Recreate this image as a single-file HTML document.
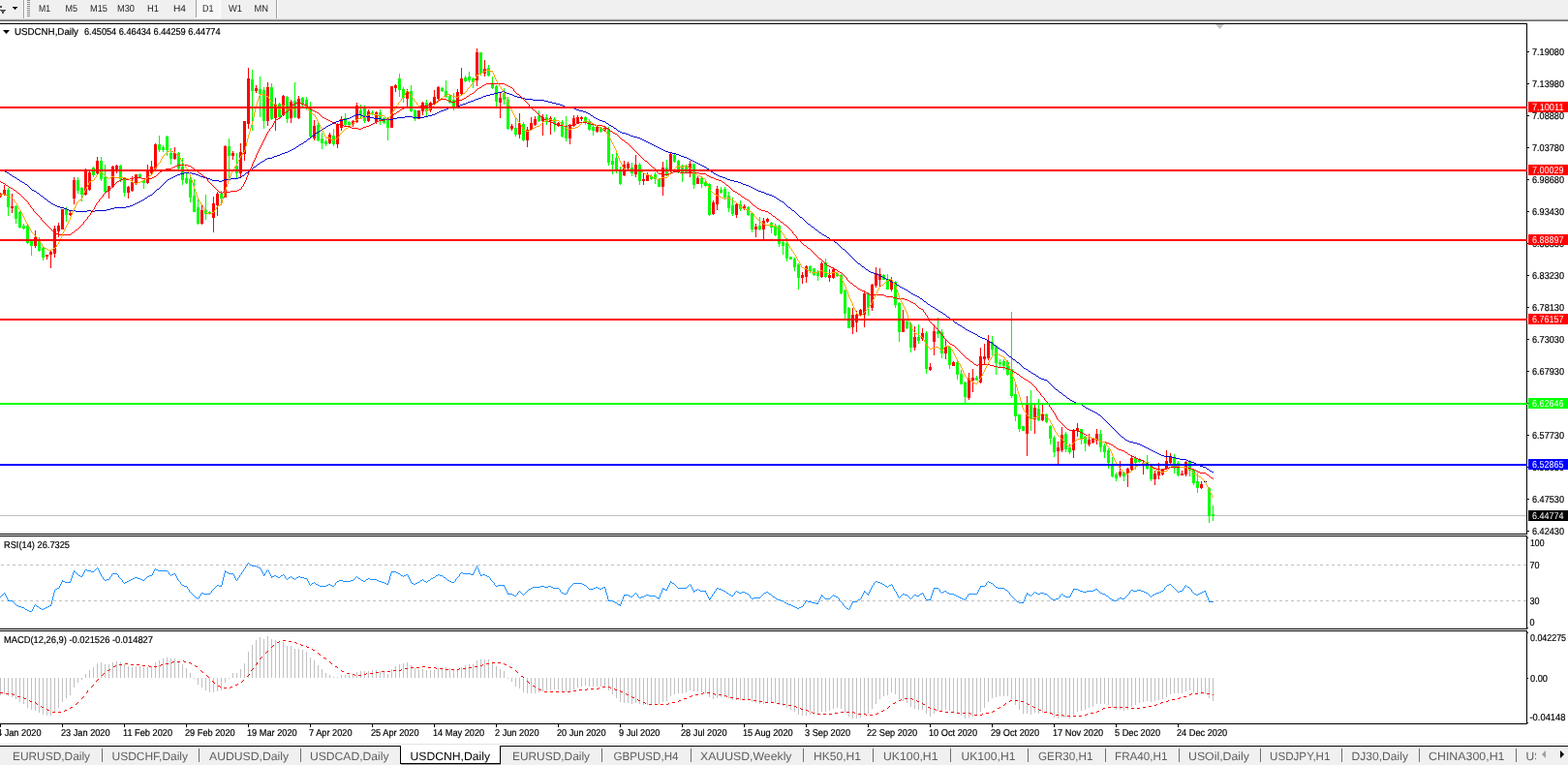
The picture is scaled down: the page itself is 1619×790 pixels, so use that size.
<!DOCTYPE html><html><head><meta charset="utf-8"><title>USDCNH,Daily</title>
<style>html,body{margin:0;padding:0;background:#fff;}body{width:1619px;height:790px;overflow:hidden;position:relative;}svg{position:absolute;left:0;top:0;display:block}</style></head><body>
<svg width="1619" height="790" viewBox="0 0 1619 790" font-family="'Liberation Sans', sans-serif" text-rendering="geometricPrecision">
<g shape-rendering="crispEdges">
<rect x="0" y="0" width="1619" height="20" fill="#f0f0f0"/>
<rect x="0" y="19" width="1619" height="1" fill="#e2e2e2"/>
<rect x="0" y="20" width="1619" height="1" fill="#a0a0a0"/>
<rect x="0" y="21" width="1619" height="1" fill="#696969"/>
<rect x="24" y="0" width="1" height="19" fill="#a0a0a0"/>
<rect x="25" y="0" width="1" height="19" fill="#ffffff"/>
<rect x="202" y="0" width="1" height="19" fill="#a0a0a0"/>
<rect x="203" y="0" width="1" height="19" fill="#ffffff"/>
<rect x="285" y="0" width="1" height="19" fill="#a0a0a0"/>
<rect x="286" y="0" width="1" height="19" fill="#ffffff"/>
<rect x="28" y="0" width="3" height="1" fill="#8a8a8a"/>
<rect x="28" y="2" width="3" height="1" fill="#8a8a8a"/>
<rect x="28" y="4" width="3" height="1" fill="#8a8a8a"/>
<rect x="28" y="6" width="3" height="1" fill="#8a8a8a"/>
<rect x="28" y="8" width="3" height="1" fill="#8a8a8a"/>
<rect x="28" y="10" width="3" height="1" fill="#8a8a8a"/>
<rect x="28" y="12" width="3" height="1" fill="#8a8a8a"/>
<rect x="28" y="14" width="3" height="1" fill="#8a8a8a"/>
<rect x="28" y="16" width="3" height="1" fill="#8a8a8a"/>
<defs><pattern id="chk" x="0" y="0" width="2" height="2" patternUnits="userSpaceOnUse"><rect width="2" height="2" fill="#f0f0f0"/><rect width="1" height="1" fill="#fff"/><rect x="1" y="1" width="1" height="1" fill="#fff"/></pattern></defs>
<rect x="203" y="0" width="24" height="18" fill="url(#chk)"/>
<rect x="202" y="18" width="26" height="1" fill="#ffffff"/>
<rect x="227" y="0" width="1" height="18" fill="#ffffff"/>
<path d="M13 7h5l-2.5 3z" fill="#000"/>
<path d="M0 6h1.5v2h-1.5z M0 10h6l-3 4.5z" fill="#505050"/>
</g>
<text x="40" y="12" font-size="10" fill="#222" textLength="12" lengthAdjust="spacingAndGlyphs">M1</text>
<text x="67.5" y="12" font-size="10" fill="#222" textLength="12.5" lengthAdjust="spacingAndGlyphs">M5</text>
<text x="93" y="12" font-size="10" fill="#222" textLength="18" lengthAdjust="spacingAndGlyphs">M15</text>
<text x="121" y="12" font-size="10" fill="#222" textLength="18" lengthAdjust="spacingAndGlyphs">M30</text>
<text x="152" y="12" font-size="10" fill="#222" textLength="12" lengthAdjust="spacingAndGlyphs">H1</text>
<text x="179" y="12" font-size="10" fill="#222" textLength="13" lengthAdjust="spacingAndGlyphs">H4</text>
<text x="209" y="12" font-size="10" fill="#222" textLength="11.5" lengthAdjust="spacingAndGlyphs">D1</text>
<text x="236" y="12" font-size="10" fill="#222" textLength="14" lengthAdjust="spacingAndGlyphs">W1</text>
<text x="262.5" y="12" font-size="10" fill="#222" textLength="14.5" lengthAdjust="spacingAndGlyphs">MN</text>
<g shape-rendering="crispEdges">
<rect x="0" y="24" width="1577" height="1" fill="#000"/>
<rect x="0" y="551" width="1577" height="1" fill="#000"/>
<rect x="1576" y="24" width="1" height="528" fill="#000"/>
<rect x="0" y="553" width="1577" height="1" fill="#000"/>
<rect x="0" y="649" width="1577" height="1" fill="#000"/>
<rect x="1576" y="553" width="1" height="97" fill="#000"/>
<rect x="0" y="651" width="1577" height="1" fill="#000"/>
<rect x="0" y="747" width="1577" height="1" fill="#000"/>
<rect x="1576" y="651" width="1" height="97" fill="#000"/>
<rect x="1577" y="53" width="2" height="1" fill="#000"/>
<rect x="1577" y="86" width="2" height="1" fill="#000"/>
<rect x="1577" y="119" width="2" height="1" fill="#000"/>
<rect x="1577" y="152" width="2" height="1" fill="#000"/>
<rect x="1577" y="185" width="2" height="1" fill="#000"/>
<rect x="1577" y="218" width="2" height="1" fill="#000"/>
<rect x="1577" y="251" width="2" height="1" fill="#000"/>
<rect x="1577" y="284" width="2" height="1" fill="#000"/>
<rect x="1577" y="317" width="2" height="1" fill="#000"/>
<rect x="1577" y="350" width="2" height="1" fill="#000"/>
<rect x="1577" y="383" width="2" height="1" fill="#000"/>
<rect x="1577" y="416" width="2" height="1" fill="#000"/>
<rect x="1577" y="449" width="2" height="1" fill="#000"/>
<rect x="1577" y="482" width="2" height="1" fill="#000"/>
<rect x="1577" y="515" width="2" height="1" fill="#000"/>
<rect x="1577" y="548" width="2" height="1" fill="#000"/>
</g>
<text x="1582" y="57" font-size="10" fill="#000" textLength="33" lengthAdjust="spacingAndGlyphs" stroke="#000" stroke-width="0.2">7.19080</text>
<text x="1582" y="90" font-size="10" fill="#000" textLength="33" lengthAdjust="spacingAndGlyphs" stroke="#000" stroke-width="0.2">7.13980</text>
<text x="1582" y="123" font-size="10" fill="#000" textLength="33" lengthAdjust="spacingAndGlyphs" stroke="#000" stroke-width="0.2">7.08880</text>
<text x="1582" y="156" font-size="10" fill="#000" textLength="33" lengthAdjust="spacingAndGlyphs" stroke="#000" stroke-width="0.2">7.03780</text>
<text x="1582" y="189" font-size="10" fill="#000" textLength="33" lengthAdjust="spacingAndGlyphs" stroke="#000" stroke-width="0.2">6.98680</text>
<text x="1582" y="222" font-size="10" fill="#000" textLength="33" lengthAdjust="spacingAndGlyphs" stroke="#000" stroke-width="0.2">6.93430</text>
<text x="1582" y="255" font-size="10" fill="#000" textLength="33" lengthAdjust="spacingAndGlyphs" stroke="#000" stroke-width="0.2">6.88330</text>
<text x="1582" y="288" font-size="10" fill="#000" textLength="33" lengthAdjust="spacingAndGlyphs" stroke="#000" stroke-width="0.2">6.83230</text>
<text x="1582" y="321" font-size="10" fill="#000" textLength="33" lengthAdjust="spacingAndGlyphs" stroke="#000" stroke-width="0.2">6.78130</text>
<text x="1582" y="354" font-size="10" fill="#000" textLength="33" lengthAdjust="spacingAndGlyphs" stroke="#000" stroke-width="0.2">6.73030</text>
<text x="1582" y="387" font-size="10" fill="#000" textLength="33" lengthAdjust="spacingAndGlyphs" stroke="#000" stroke-width="0.2">6.67930</text>
<text x="1582" y="420" font-size="10" fill="#000" textLength="33" lengthAdjust="spacingAndGlyphs" stroke="#000" stroke-width="0.2">6.62830</text>
<text x="1582" y="453" font-size="10" fill="#000" textLength="33" lengthAdjust="spacingAndGlyphs" stroke="#000" stroke-width="0.2">6.57730</text>
<text x="1582" y="486" font-size="10" fill="#000" textLength="33" lengthAdjust="spacingAndGlyphs" stroke="#000" stroke-width="0.2">6.52630</text>
<text x="1582" y="519" font-size="10" fill="#000" textLength="33" lengthAdjust="spacingAndGlyphs" stroke="#000" stroke-width="0.2">6.47530</text>
<text x="1582" y="552" font-size="10" fill="#000" textLength="33" lengthAdjust="spacingAndGlyphs" stroke="#000" stroke-width="0.2">6.42430</text>
<g shape-rendering="crispEdges">
<rect x="0" y="532" width="1576" height="1" fill="#c0c0c0"/>
</g>
<g shape-rendering="crispEdges">
<rect x="0" y="199" width="1" height="5" fill="#ff0000"/>
<rect x="-1" y="200" width="3" height="3" fill="#ff0000"/>
<rect x="4" y="191" width="1" height="11" fill="#ff0000"/>
<rect x="3" y="196" width="3" height="5" fill="#ff0000"/>
<rect x="8" y="194" width="1" height="29" fill="#00ff00"/>
<rect x="7" y="196" width="3" height="18" fill="#00ff00"/>
<rect x="12" y="200" width="1" height="20" fill="#ff0000"/>
<rect x="11" y="213" width="3" height="2" fill="#ff0000"/>
<rect x="16" y="212" width="1" height="19" fill="#00ff00"/>
<rect x="15" y="213" width="3" height="13" fill="#00ff00"/>
<rect x="20" y="218" width="1" height="18" fill="#00ff00"/>
<rect x="19" y="219" width="3" height="16" fill="#00ff00"/>
<rect x="24" y="231" width="1" height="6" fill="#00ff00"/>
<rect x="23" y="233" width="3" height="3" fill="#00ff00"/>
<rect x="28" y="231" width="1" height="21" fill="#00ff00"/>
<rect x="27" y="233" width="3" height="18" fill="#00ff00"/>
<rect x="32" y="248" width="1" height="16" fill="#00ff00"/>
<rect x="31" y="249" width="3" height="5" fill="#00ff00"/>
<rect x="36" y="238" width="1" height="18" fill="#ff0000"/>
<rect x="35" y="245" width="3" height="9" fill="#ff0000"/>
<rect x="40" y="245" width="1" height="15" fill="#00ff00"/>
<rect x="39" y="247" width="3" height="12" fill="#00ff00"/>
<rect x="44" y="255" width="1" height="14" fill="#00ff00"/>
<rect x="43" y="256" width="3" height="10" fill="#00ff00"/>
<rect x="48" y="263" width="1" height="5" fill="#ff0000"/>
<rect x="47" y="263" width="3" height="2" fill="#ff0000"/>
<rect x="52" y="259" width="1" height="18" fill="#ff0000"/>
<rect x="51" y="260" width="3" height="3" fill="#ff0000"/>
<rect x="56" y="233" width="1" height="33" fill="#ff0000"/>
<rect x="55" y="236" width="3" height="26" fill="#ff0000"/>
<rect x="60" y="230" width="1" height="15" fill="#ff0000"/>
<rect x="59" y="233" width="3" height="6" fill="#ff0000"/>
<rect x="64" y="216" width="1" height="21" fill="#ff0000"/>
<rect x="63" y="216" width="3" height="21" fill="#ff0000"/>
<rect x="68" y="214" width="1" height="15" fill="#00ff00"/>
<rect x="67" y="216" width="3" height="6" fill="#00ff00"/>
<rect x="72" y="218" width="1" height="5" fill="#ff0000"/>
<rect x="71" y="220" width="3" height="2" fill="#ff0000"/>
<rect x="76" y="183" width="1" height="28" fill="#ff0000"/>
<rect x="75" y="186" width="3" height="19" fill="#ff0000"/>
<rect x="80" y="183" width="1" height="17" fill="#00ff00"/>
<rect x="79" y="186" width="3" height="11" fill="#00ff00"/>
<rect x="84" y="193" width="1" height="15" fill="#00ff00"/>
<rect x="83" y="194" width="3" height="7" fill="#00ff00"/>
<rect x="88" y="174" width="1" height="28" fill="#ff0000"/>
<rect x="87" y="175" width="3" height="26" fill="#ff0000"/>
<rect x="92" y="176" width="1" height="21" fill="#ff0000"/>
<rect x="91" y="178" width="3" height="18" fill="#ff0000"/>
<rect x="96" y="172" width="1" height="11" fill="#00ff00"/>
<rect x="95" y="173" width="3" height="8" fill="#00ff00"/>
<rect x="100" y="162" width="1" height="19" fill="#ff0000"/>
<rect x="99" y="166" width="3" height="13" fill="#ff0000"/>
<rect x="104" y="162" width="1" height="25" fill="#00ff00"/>
<rect x="103" y="166" width="3" height="19" fill="#00ff00"/>
<rect x="108" y="170" width="1" height="29" fill="#00ff00"/>
<rect x="107" y="183" width="3" height="15" fill="#00ff00"/>
<rect x="112" y="192" width="1" height="13" fill="#ff0000"/>
<rect x="111" y="192" width="3" height="5" fill="#ff0000"/>
<rect x="116" y="171" width="1" height="23" fill="#ff0000"/>
<rect x="115" y="172" width="3" height="21" fill="#ff0000"/>
<rect x="120" y="170" width="1" height="9" fill="#ff0000"/>
<rect x="119" y="171" width="3" height="6" fill="#ff0000"/>
<rect x="124" y="170" width="1" height="18" fill="#00ff00"/>
<rect x="123" y="171" width="3" height="14" fill="#00ff00"/>
<rect x="128" y="183" width="1" height="20" fill="#00ff00"/>
<rect x="127" y="185" width="3" height="14" fill="#00ff00"/>
<rect x="132" y="192" width="1" height="13" fill="#ff0000"/>
<rect x="131" y="193" width="3" height="6" fill="#ff0000"/>
<rect x="136" y="182" width="1" height="16" fill="#ff0000"/>
<rect x="135" y="188" width="3" height="9" fill="#ff0000"/>
<rect x="140" y="180" width="1" height="11" fill="#ff0000"/>
<rect x="139" y="180" width="3" height="9" fill="#ff0000"/>
<rect x="144" y="179" width="1" height="4" fill="#00ff00"/>
<rect x="143" y="180" width="3" height="3" fill="#00ff00"/>
<rect x="148" y="186" width="1" height="9" fill="#00ff00"/>
<rect x="147" y="186" width="3" height="3" fill="#00ff00"/>
<rect x="152" y="170" width="1" height="20" fill="#ff0000"/>
<rect x="151" y="176" width="3" height="13" fill="#ff0000"/>
<rect x="156" y="166" width="1" height="14" fill="#ff0000"/>
<rect x="155" y="172" width="3" height="7" fill="#ff0000"/>
<rect x="160" y="148" width="1" height="27" fill="#ff0000"/>
<rect x="159" y="149" width="3" height="25" fill="#ff0000"/>
<rect x="164" y="140" width="1" height="17" fill="#00ff00"/>
<rect x="163" y="149" width="3" height="6" fill="#00ff00"/>
<rect x="168" y="150" width="1" height="7" fill="#00ff00"/>
<rect x="167" y="152" width="3" height="3" fill="#00ff00"/>
<rect x="172" y="140" width="1" height="21" fill="#00ff00"/>
<rect x="171" y="141" width="3" height="14" fill="#00ff00"/>
<rect x="176" y="153" width="1" height="17" fill="#00ff00"/>
<rect x="175" y="158" width="3" height="6" fill="#00ff00"/>
<rect x="180" y="152" width="1" height="13" fill="#ff0000"/>
<rect x="179" y="158" width="3" height="6" fill="#ff0000"/>
<rect x="184" y="157" width="1" height="18" fill="#00ff00"/>
<rect x="183" y="158" width="3" height="16" fill="#00ff00"/>
<rect x="188" y="163" width="1" height="28" fill="#00ff00"/>
<rect x="187" y="172" width="3" height="14" fill="#00ff00"/>
<rect x="192" y="178" width="1" height="12" fill="#00ff00"/>
<rect x="191" y="184" width="3" height="5" fill="#00ff00"/>
<rect x="196" y="183" width="1" height="26" fill="#00ff00"/>
<rect x="195" y="185" width="3" height="19" fill="#00ff00"/>
<rect x="200" y="185" width="1" height="34" fill="#00ff00"/>
<rect x="199" y="202" width="3" height="17" fill="#00ff00"/>
<rect x="204" y="206" width="1" height="26" fill="#00ff00"/>
<rect x="203" y="214" width="3" height="17" fill="#00ff00"/>
<rect x="208" y="212" width="1" height="20" fill="#ff0000"/>
<rect x="207" y="217" width="3" height="14" fill="#ff0000"/>
<rect x="212" y="201" width="1" height="26" fill="#00ff00"/>
<rect x="211" y="217" width="3" height="4" fill="#00ff00"/>
<rect x="216" y="218" width="1" height="3" fill="#00ff00"/>
<rect x="215" y="219" width="3" height="2" fill="#00ff00"/>
<rect x="220" y="203" width="1" height="37" fill="#ff0000"/>
<rect x="219" y="210" width="3" height="15" fill="#ff0000"/>
<rect x="224" y="198" width="1" height="25" fill="#ff0000"/>
<rect x="223" y="200" width="3" height="12" fill="#ff0000"/>
<rect x="228" y="197" width="1" height="14" fill="#00ff00"/>
<rect x="227" y="200" width="3" height="5" fill="#00ff00"/>
<rect x="232" y="150" width="1" height="54" fill="#ff0000"/>
<rect x="231" y="151" width="3" height="53" fill="#ff0000"/>
<rect x="236" y="143" width="1" height="41" fill="#00ff00"/>
<rect x="235" y="151" width="3" height="10" fill="#00ff00"/>
<rect x="240" y="156" width="1" height="9" fill="#ff0000"/>
<rect x="239" y="158" width="3" height="3" fill="#ff0000"/>
<rect x="244" y="158" width="1" height="26" fill="#00ff00"/>
<rect x="243" y="171" width="3" height="8" fill="#00ff00"/>
<rect x="248" y="148" width="1" height="35" fill="#ff0000"/>
<rect x="247" y="157" width="3" height="22" fill="#ff0000"/>
<rect x="252" y="125" width="1" height="41" fill="#ff0000"/>
<rect x="251" y="125" width="3" height="34" fill="#ff0000"/>
<rect x="256" y="70" width="1" height="63" fill="#ff0000"/>
<rect x="255" y="81" width="3" height="47" fill="#ff0000"/>
<rect x="260" y="72" width="1" height="63" fill="#00ff00"/>
<rect x="259" y="82" width="3" height="12" fill="#00ff00"/>
<rect x="264" y="88" width="1" height="8" fill="#ff0000"/>
<rect x="263" y="91" width="3" height="3" fill="#ff0000"/>
<rect x="268" y="79" width="1" height="42" fill="#00ff00"/>
<rect x="267" y="92" width="3" height="5" fill="#00ff00"/>
<rect x="272" y="90" width="1" height="43" fill="#00ff00"/>
<rect x="271" y="93" width="3" height="32" fill="#00ff00"/>
<rect x="276" y="85" width="1" height="45" fill="#ff0000"/>
<rect x="275" y="90" width="3" height="35" fill="#ff0000"/>
<rect x="280" y="86" width="1" height="38" fill="#00ff00"/>
<rect x="279" y="90" width="3" height="33" fill="#00ff00"/>
<rect x="284" y="101" width="1" height="34" fill="#ff0000"/>
<rect x="283" y="108" width="3" height="14" fill="#ff0000"/>
<rect x="288" y="106" width="1" height="16" fill="#00ff00"/>
<rect x="287" y="107" width="3" height="14" fill="#00ff00"/>
<rect x="292" y="98" width="1" height="22" fill="#ff0000"/>
<rect x="291" y="99" width="3" height="20" fill="#ff0000"/>
<rect x="296" y="99" width="1" height="28" fill="#00ff00"/>
<rect x="295" y="100" width="3" height="23" fill="#00ff00"/>
<rect x="300" y="103" width="1" height="24" fill="#ff0000"/>
<rect x="299" y="105" width="3" height="17" fill="#ff0000"/>
<rect x="304" y="85" width="1" height="37" fill="#00ff00"/>
<rect x="303" y="104" width="3" height="17" fill="#00ff00"/>
<rect x="308" y="99" width="1" height="24" fill="#ff0000"/>
<rect x="307" y="102" width="3" height="20" fill="#ff0000"/>
<rect x="312" y="100" width="1" height="10" fill="#00ff00"/>
<rect x="311" y="101" width="3" height="7" fill="#00ff00"/>
<rect x="316" y="100" width="1" height="13" fill="#00ff00"/>
<rect x="315" y="103" width="3" height="8" fill="#00ff00"/>
<rect x="320" y="105" width="1" height="37" fill="#00ff00"/>
<rect x="319" y="110" width="3" height="31" fill="#00ff00"/>
<rect x="324" y="124" width="1" height="21" fill="#ff0000"/>
<rect x="323" y="130" width="3" height="13" fill="#ff0000"/>
<rect x="328" y="126" width="1" height="20" fill="#00ff00"/>
<rect x="327" y="129" width="3" height="16" fill="#00ff00"/>
<rect x="332" y="137" width="1" height="17" fill="#00ff00"/>
<rect x="331" y="143" width="3" height="5" fill="#00ff00"/>
<rect x="336" y="144" width="1" height="7" fill="#00ff00"/>
<rect x="335" y="146" width="3" height="3" fill="#00ff00"/>
<rect x="340" y="137" width="1" height="12" fill="#ff0000"/>
<rect x="339" y="139" width="3" height="9" fill="#ff0000"/>
<rect x="344" y="133" width="1" height="18" fill="#00ff00"/>
<rect x="343" y="140" width="3" height="9" fill="#00ff00"/>
<rect x="348" y="127" width="1" height="26" fill="#ff0000"/>
<rect x="347" y="129" width="3" height="20" fill="#ff0000"/>
<rect x="352" y="120" width="1" height="15" fill="#ff0000"/>
<rect x="351" y="123" width="3" height="9" fill="#ff0000"/>
<rect x="356" y="117" width="1" height="14" fill="#00ff00"/>
<rect x="355" y="122" width="3" height="7" fill="#00ff00"/>
<rect x="360" y="125" width="1" height="5" fill="#00ff00"/>
<rect x="359" y="126" width="3" height="3" fill="#00ff00"/>
<rect x="364" y="124" width="1" height="7" fill="#ff0000"/>
<rect x="363" y="125" width="3" height="3" fill="#ff0000"/>
<rect x="368" y="106" width="1" height="21" fill="#ff0000"/>
<rect x="367" y="109" width="3" height="17" fill="#ff0000"/>
<rect x="372" y="108" width="1" height="15" fill="#00ff00"/>
<rect x="371" y="114" width="3" height="5" fill="#00ff00"/>
<rect x="376" y="109" width="1" height="18" fill="#00ff00"/>
<rect x="375" y="112" width="3" height="13" fill="#00ff00"/>
<rect x="380" y="113" width="1" height="13" fill="#ff0000"/>
<rect x="379" y="115" width="3" height="10" fill="#ff0000"/>
<rect x="384" y="114" width="1" height="5" fill="#00ff00"/>
<rect x="383" y="116" width="3" height="2" fill="#00ff00"/>
<rect x="388" y="115" width="1" height="13" fill="#ff0000"/>
<rect x="387" y="116" width="3" height="10" fill="#ff0000"/>
<rect x="392" y="113" width="1" height="16" fill="#00ff00"/>
<rect x="391" y="116" width="3" height="8" fill="#00ff00"/>
<rect x="396" y="121" width="1" height="7" fill="#00ff00"/>
<rect x="395" y="122" width="3" height="5" fill="#00ff00"/>
<rect x="400" y="121" width="1" height="24" fill="#00ff00"/>
<rect x="399" y="123" width="3" height="9" fill="#00ff00"/>
<rect x="404" y="89" width="1" height="43" fill="#ff0000"/>
<rect x="403" y="89" width="3" height="43" fill="#ff0000"/>
<rect x="408" y="87" width="1" height="8" fill="#ff0000"/>
<rect x="407" y="88" width="3" height="3" fill="#ff0000"/>
<rect x="412" y="76" width="1" height="24" fill="#00ff00"/>
<rect x="411" y="81" width="3" height="12" fill="#00ff00"/>
<rect x="416" y="90" width="1" height="16" fill="#00ff00"/>
<rect x="415" y="92" width="3" height="9" fill="#00ff00"/>
<rect x="420" y="92" width="1" height="19" fill="#ff0000"/>
<rect x="419" y="94" width="3" height="8" fill="#ff0000"/>
<rect x="424" y="88" width="1" height="28" fill="#00ff00"/>
<rect x="423" y="94" width="3" height="21" fill="#00ff00"/>
<rect x="428" y="113" width="1" height="12" fill="#00ff00"/>
<rect x="427" y="114" width="3" height="9" fill="#00ff00"/>
<rect x="432" y="114" width="1" height="9" fill="#ff0000"/>
<rect x="431" y="114" width="3" height="9" fill="#ff0000"/>
<rect x="436" y="105" width="1" height="14" fill="#ff0000"/>
<rect x="435" y="106" width="3" height="9" fill="#ff0000"/>
<rect x="440" y="103" width="1" height="17" fill="#00ff00"/>
<rect x="439" y="106" width="3" height="9" fill="#00ff00"/>
<rect x="444" y="105" width="1" height="11" fill="#ff0000"/>
<rect x="443" y="106" width="3" height="8" fill="#ff0000"/>
<rect x="448" y="93" width="1" height="16" fill="#ff0000"/>
<rect x="447" y="100" width="3" height="8" fill="#ff0000"/>
<rect x="452" y="89" width="1" height="14" fill="#ff0000"/>
<rect x="451" y="90" width="3" height="12" fill="#ff0000"/>
<rect x="456" y="90" width="1" height="5" fill="#00ff00"/>
<rect x="455" y="91" width="3" height="3" fill="#00ff00"/>
<rect x="460" y="83" width="1" height="18" fill="#00ff00"/>
<rect x="459" y="94" width="3" height="6" fill="#00ff00"/>
<rect x="464" y="97" width="1" height="10" fill="#00ff00"/>
<rect x="463" y="99" width="3" height="7" fill="#00ff00"/>
<rect x="468" y="96" width="1" height="18" fill="#00ff00"/>
<rect x="467" y="103" width="3" height="7" fill="#00ff00"/>
<rect x="472" y="92" width="1" height="19" fill="#ff0000"/>
<rect x="471" y="95" width="3" height="15" fill="#ff0000"/>
<rect x="476" y="70" width="1" height="28" fill="#ff0000"/>
<rect x="475" y="81" width="3" height="16" fill="#ff0000"/>
<rect x="480" y="78" width="1" height="7" fill="#00ff00"/>
<rect x="479" y="80" width="3" height="4" fill="#00ff00"/>
<rect x="484" y="74" width="1" height="11" fill="#00ff00"/>
<rect x="483" y="79" width="3" height="4" fill="#00ff00"/>
<rect x="488" y="80" width="1" height="11" fill="#00ff00"/>
<rect x="487" y="81" width="3" height="4" fill="#00ff00"/>
<rect x="492" y="50" width="1" height="39" fill="#ff0000"/>
<rect x="491" y="54" width="3" height="29" fill="#ff0000"/>
<rect x="496" y="54" width="1" height="24" fill="#00ff00"/>
<rect x="495" y="54" width="3" height="22" fill="#00ff00"/>
<rect x="500" y="62" width="1" height="17" fill="#ff0000"/>
<rect x="499" y="71" width="3" height="5" fill="#ff0000"/>
<rect x="504" y="67" width="1" height="12" fill="#00ff00"/>
<rect x="503" y="70" width="3" height="8" fill="#00ff00"/>
<rect x="508" y="79" width="1" height="13" fill="#00ff00"/>
<rect x="507" y="87" width="3" height="4" fill="#00ff00"/>
<rect x="512" y="88" width="1" height="23" fill="#00ff00"/>
<rect x="511" y="89" width="3" height="16" fill="#00ff00"/>
<rect x="516" y="96" width="1" height="26" fill="#ff0000"/>
<rect x="515" y="101" width="3" height="5" fill="#ff0000"/>
<rect x="520" y="91" width="1" height="17" fill="#00ff00"/>
<rect x="519" y="96" width="3" height="7" fill="#00ff00"/>
<rect x="524" y="100" width="1" height="34" fill="#00ff00"/>
<rect x="523" y="103" width="3" height="30" fill="#00ff00"/>
<rect x="528" y="128" width="1" height="7" fill="#ff0000"/>
<rect x="527" y="130" width="3" height="3" fill="#ff0000"/>
<rect x="532" y="122" width="1" height="19" fill="#00ff00"/>
<rect x="531" y="132" width="3" height="7" fill="#00ff00"/>
<rect x="536" y="117" width="1" height="26" fill="#ff0000"/>
<rect x="535" y="127" width="3" height="12" fill="#ff0000"/>
<rect x="540" y="126" width="1" height="20" fill="#00ff00"/>
<rect x="539" y="128" width="3" height="17" fill="#00ff00"/>
<rect x="544" y="131" width="1" height="21" fill="#ff0000"/>
<rect x="543" y="134" width="3" height="11" fill="#ff0000"/>
<rect x="548" y="121" width="1" height="14" fill="#ff0000"/>
<rect x="547" y="127" width="3" height="7" fill="#ff0000"/>
<rect x="552" y="120" width="1" height="10" fill="#ff0000"/>
<rect x="551" y="123" width="3" height="6" fill="#ff0000"/>
<rect x="556" y="114" width="1" height="12" fill="#00ff00"/>
<rect x="555" y="120" width="3" height="5" fill="#00ff00"/>
<rect x="560" y="118" width="1" height="22" fill="#ff0000"/>
<rect x="559" y="121" width="3" height="4" fill="#ff0000"/>
<rect x="564" y="118" width="1" height="11" fill="#00ff00"/>
<rect x="563" y="121" width="3" height="5" fill="#00ff00"/>
<rect x="568" y="120" width="1" height="19" fill="#ff0000"/>
<rect x="567" y="122" width="3" height="3" fill="#ff0000"/>
<rect x="572" y="121" width="1" height="15" fill="#00ff00"/>
<rect x="571" y="123" width="3" height="5" fill="#00ff00"/>
<rect x="576" y="126" width="1" height="5" fill="#ff0000"/>
<rect x="575" y="127" width="3" height="3" fill="#ff0000"/>
<rect x="580" y="124" width="1" height="18" fill="#00ff00"/>
<rect x="579" y="126" width="3" height="15" fill="#00ff00"/>
<rect x="584" y="120" width="1" height="26" fill="#00ff00"/>
<rect x="583" y="130" width="3" height="13" fill="#00ff00"/>
<rect x="588" y="128" width="1" height="21" fill="#ff0000"/>
<rect x="587" y="129" width="3" height="14" fill="#ff0000"/>
<rect x="592" y="119" width="1" height="12" fill="#ff0000"/>
<rect x="591" y="122" width="3" height="8" fill="#ff0000"/>
<rect x="596" y="119" width="1" height="9" fill="#ff0000"/>
<rect x="595" y="121" width="3" height="6" fill="#ff0000"/>
<rect x="600" y="120" width="1" height="5" fill="#ff0000"/>
<rect x="599" y="121" width="3" height="2" fill="#ff0000"/>
<rect x="604" y="120" width="1" height="9" fill="#00ff00"/>
<rect x="603" y="121" width="3" height="6" fill="#00ff00"/>
<rect x="608" y="123" width="1" height="12" fill="#00ff00"/>
<rect x="607" y="125" width="3" height="9" fill="#00ff00"/>
<rect x="612" y="127" width="1" height="13" fill="#00ff00"/>
<rect x="611" y="131" width="3" height="4" fill="#00ff00"/>
<rect x="616" y="129" width="1" height="8" fill="#ff0000"/>
<rect x="615" y="131" width="3" height="5" fill="#ff0000"/>
<rect x="620" y="131" width="1" height="6" fill="#00ff00"/>
<rect x="619" y="132" width="3" height="4" fill="#00ff00"/>
<rect x="624" y="131" width="1" height="5" fill="#ff0000"/>
<rect x="623" y="132" width="3" height="3" fill="#ff0000"/>
<rect x="628" y="131" width="1" height="40" fill="#00ff00"/>
<rect x="627" y="133" width="3" height="35" fill="#00ff00"/>
<rect x="632" y="159" width="1" height="21" fill="#00ff00"/>
<rect x="631" y="166" width="3" height="4" fill="#00ff00"/>
<rect x="636" y="158" width="1" height="21" fill="#00ff00"/>
<rect x="635" y="163" width="3" height="14" fill="#00ff00"/>
<rect x="640" y="172" width="1" height="19" fill="#00ff00"/>
<rect x="639" y="176" width="3" height="14" fill="#00ff00"/>
<rect x="644" y="166" width="1" height="16" fill="#ff0000"/>
<rect x="643" y="170" width="3" height="11" fill="#ff0000"/>
<rect x="648" y="167" width="1" height="8" fill="#ff0000"/>
<rect x="647" y="169" width="3" height="5" fill="#ff0000"/>
<rect x="652" y="168" width="1" height="14" fill="#00ff00"/>
<rect x="651" y="173" width="3" height="6" fill="#00ff00"/>
<rect x="656" y="160" width="1" height="23" fill="#ff0000"/>
<rect x="655" y="170" width="3" height="10" fill="#ff0000"/>
<rect x="660" y="168" width="1" height="23" fill="#00ff00"/>
<rect x="659" y="170" width="3" height="17" fill="#00ff00"/>
<rect x="664" y="179" width="1" height="12" fill="#ff0000"/>
<rect x="663" y="185" width="3" height="2" fill="#ff0000"/>
<rect x="668" y="178" width="1" height="9" fill="#ff0000"/>
<rect x="667" y="181" width="3" height="6" fill="#ff0000"/>
<rect x="672" y="180" width="1" height="6" fill="#00ff00"/>
<rect x="671" y="182" width="3" height="3" fill="#00ff00"/>
<rect x="676" y="178" width="1" height="12" fill="#00ff00"/>
<rect x="675" y="180" width="3" height="5" fill="#00ff00"/>
<rect x="680" y="184" width="1" height="9" fill="#00ff00"/>
<rect x="679" y="185" width="3" height="8" fill="#00ff00"/>
<rect x="684" y="167" width="1" height="35" fill="#ff0000"/>
<rect x="683" y="173" width="3" height="20" fill="#ff0000"/>
<rect x="688" y="165" width="1" height="17" fill="#00ff00"/>
<rect x="687" y="173" width="3" height="8" fill="#00ff00"/>
<rect x="692" y="157" width="1" height="21" fill="#ff0000"/>
<rect x="691" y="159" width="3" height="18" fill="#ff0000"/>
<rect x="696" y="158" width="1" height="10" fill="#00ff00"/>
<rect x="695" y="160" width="3" height="7" fill="#00ff00"/>
<rect x="700" y="165" width="1" height="14" fill="#00ff00"/>
<rect x="699" y="166" width="3" height="12" fill="#00ff00"/>
<rect x="704" y="170" width="1" height="18" fill="#00ff00"/>
<rect x="703" y="171" width="3" height="8" fill="#00ff00"/>
<rect x="708" y="170" width="1" height="9" fill="#00ff00"/>
<rect x="707" y="171" width="3" height="7" fill="#00ff00"/>
<rect x="712" y="166" width="1" height="17" fill="#ff0000"/>
<rect x="711" y="169" width="3" height="9" fill="#ff0000"/>
<rect x="716" y="169" width="1" height="26" fill="#00ff00"/>
<rect x="715" y="169" width="3" height="22" fill="#00ff00"/>
<rect x="720" y="182" width="1" height="8" fill="#ff0000"/>
<rect x="719" y="184" width="3" height="6" fill="#ff0000"/>
<rect x="724" y="182" width="1" height="12" fill="#00ff00"/>
<rect x="723" y="184" width="3" height="6" fill="#00ff00"/>
<rect x="728" y="187" width="1" height="6" fill="#00ff00"/>
<rect x="727" y="188" width="3" height="4" fill="#00ff00"/>
<rect x="732" y="189" width="1" height="34" fill="#00ff00"/>
<rect x="731" y="190" width="3" height="32" fill="#00ff00"/>
<rect x="736" y="207" width="1" height="15" fill="#ff0000"/>
<rect x="735" y="209" width="3" height="12" fill="#ff0000"/>
<rect x="740" y="192" width="1" height="25" fill="#ff0000"/>
<rect x="739" y="195" width="3" height="16" fill="#ff0000"/>
<rect x="744" y="193" width="1" height="7" fill="#00ff00"/>
<rect x="743" y="196" width="3" height="3" fill="#00ff00"/>
<rect x="748" y="193" width="1" height="12" fill="#00ff00"/>
<rect x="747" y="195" width="3" height="9" fill="#00ff00"/>
<rect x="752" y="198" width="1" height="21" fill="#00ff00"/>
<rect x="751" y="202" width="3" height="13" fill="#00ff00"/>
<rect x="756" y="204" width="1" height="19" fill="#00ff00"/>
<rect x="755" y="212" width="3" height="9" fill="#00ff00"/>
<rect x="760" y="209" width="1" height="16" fill="#ff0000"/>
<rect x="759" y="211" width="3" height="11" fill="#ff0000"/>
<rect x="764" y="207" width="1" height="11" fill="#00ff00"/>
<rect x="763" y="211" width="3" height="5" fill="#00ff00"/>
<rect x="768" y="211" width="1" height="6" fill="#ff0000"/>
<rect x="767" y="213" width="3" height="3" fill="#ff0000"/>
<rect x="772" y="213" width="1" height="10" fill="#00ff00"/>
<rect x="771" y="214" width="3" height="8" fill="#00ff00"/>
<rect x="776" y="219" width="1" height="21" fill="#00ff00"/>
<rect x="775" y="220" width="3" height="17" fill="#00ff00"/>
<rect x="780" y="231" width="1" height="14" fill="#ff0000"/>
<rect x="779" y="234" width="3" height="3" fill="#ff0000"/>
<rect x="784" y="224" width="1" height="14" fill="#00ff00"/>
<rect x="783" y="233" width="3" height="4" fill="#00ff00"/>
<rect x="788" y="225" width="1" height="23" fill="#ff0000"/>
<rect x="787" y="228" width="3" height="9" fill="#ff0000"/>
<rect x="792" y="225" width="1" height="5" fill="#ff0000"/>
<rect x="791" y="226" width="3" height="3" fill="#ff0000"/>
<rect x="796" y="229" width="1" height="12" fill="#00ff00"/>
<rect x="795" y="230" width="3" height="5" fill="#00ff00"/>
<rect x="800" y="231" width="1" height="13" fill="#00ff00"/>
<rect x="799" y="233" width="3" height="10" fill="#00ff00"/>
<rect x="804" y="232" width="1" height="23" fill="#00ff00"/>
<rect x="803" y="233" width="3" height="19" fill="#00ff00"/>
<rect x="808" y="249" width="1" height="14" fill="#00ff00"/>
<rect x="807" y="250" width="3" height="4" fill="#00ff00"/>
<rect x="812" y="246" width="1" height="24" fill="#00ff00"/>
<rect x="811" y="251" width="3" height="16" fill="#00ff00"/>
<rect x="816" y="265" width="1" height="3" fill="#00ff00"/>
<rect x="815" y="265" width="3" height="3" fill="#00ff00"/>
<rect x="820" y="266" width="1" height="14" fill="#00ff00"/>
<rect x="819" y="267" width="3" height="9" fill="#00ff00"/>
<rect x="824" y="272" width="1" height="27" fill="#00ff00"/>
<rect x="823" y="273" width="3" height="14" fill="#00ff00"/>
<rect x="828" y="281" width="1" height="12" fill="#ff0000"/>
<rect x="827" y="284" width="3" height="3" fill="#ff0000"/>
<rect x="832" y="274" width="1" height="18" fill="#ff0000"/>
<rect x="831" y="275" width="3" height="11" fill="#ff0000"/>
<rect x="836" y="274" width="1" height="8" fill="#00ff00"/>
<rect x="835" y="275" width="3" height="5" fill="#00ff00"/>
<rect x="840" y="277" width="1" height="8" fill="#00ff00"/>
<rect x="839" y="277" width="3" height="7" fill="#00ff00"/>
<rect x="844" y="279" width="1" height="11" fill="#00ff00"/>
<rect x="843" y="281" width="3" height="4" fill="#00ff00"/>
<rect x="848" y="270" width="1" height="17" fill="#ff0000"/>
<rect x="847" y="272" width="3" height="14" fill="#ff0000"/>
<rect x="852" y="267" width="1" height="20" fill="#00ff00"/>
<rect x="851" y="271" width="3" height="15" fill="#00ff00"/>
<rect x="856" y="278" width="1" height="13" fill="#ff0000"/>
<rect x="855" y="284" width="3" height="3" fill="#ff0000"/>
<rect x="860" y="277" width="1" height="11" fill="#ff0000"/>
<rect x="859" y="278" width="3" height="9" fill="#ff0000"/>
<rect x="864" y="281" width="1" height="5" fill="#00ff00"/>
<rect x="863" y="282" width="3" height="3" fill="#00ff00"/>
<rect x="868" y="283" width="1" height="21" fill="#00ff00"/>
<rect x="867" y="284" width="3" height="19" fill="#00ff00"/>
<rect x="872" y="299" width="1" height="31" fill="#00ff00"/>
<rect x="871" y="300" width="3" height="24" fill="#00ff00"/>
<rect x="876" y="317" width="1" height="22" fill="#00ff00"/>
<rect x="875" y="318" width="3" height="21" fill="#00ff00"/>
<rect x="880" y="318" width="1" height="27" fill="#ff0000"/>
<rect x="879" y="325" width="3" height="13" fill="#ff0000"/>
<rect x="884" y="321" width="1" height="22" fill="#ff0000"/>
<rect x="883" y="325" width="3" height="8" fill="#ff0000"/>
<rect x="888" y="319" width="1" height="7" fill="#ff0000"/>
<rect x="887" y="320" width="3" height="5" fill="#ff0000"/>
<rect x="892" y="301" width="1" height="37" fill="#ff0000"/>
<rect x="891" y="303" width="3" height="22" fill="#ff0000"/>
<rect x="896" y="302" width="1" height="24" fill="#00ff00"/>
<rect x="895" y="303" width="3" height="15" fill="#00ff00"/>
<rect x="900" y="293" width="1" height="28" fill="#ff0000"/>
<rect x="899" y="294" width="3" height="24" fill="#ff0000"/>
<rect x="904" y="276" width="1" height="21" fill="#ff0000"/>
<rect x="903" y="282" width="3" height="13" fill="#ff0000"/>
<rect x="908" y="277" width="1" height="20" fill="#ff0000"/>
<rect x="907" y="283" width="3" height="6" fill="#ff0000"/>
<rect x="912" y="283" width="1" height="6" fill="#00ff00"/>
<rect x="911" y="284" width="3" height="5" fill="#00ff00"/>
<rect x="916" y="283" width="1" height="16" fill="#00ff00"/>
<rect x="915" y="288" width="3" height="11" fill="#00ff00"/>
<rect x="920" y="286" width="1" height="15" fill="#ff0000"/>
<rect x="919" y="289" width="3" height="10" fill="#ff0000"/>
<rect x="924" y="290" width="1" height="28" fill="#00ff00"/>
<rect x="923" y="291" width="3" height="24" fill="#00ff00"/>
<rect x="928" y="312" width="1" height="41" fill="#00ff00"/>
<rect x="927" y="313" width="3" height="30" fill="#00ff00"/>
<rect x="932" y="320" width="1" height="23" fill="#ff0000"/>
<rect x="931" y="331" width="3" height="12" fill="#ff0000"/>
<rect x="936" y="331" width="1" height="9" fill="#00ff00"/>
<rect x="935" y="332" width="3" height="7" fill="#00ff00"/>
<rect x="940" y="333" width="1" height="31" fill="#00ff00"/>
<rect x="939" y="335" width="3" height="24" fill="#00ff00"/>
<rect x="944" y="337" width="1" height="25" fill="#ff0000"/>
<rect x="943" y="348" width="3" height="11" fill="#ff0000"/>
<rect x="948" y="335" width="1" height="20" fill="#00ff00"/>
<rect x="947" y="348" width="3" height="4" fill="#00ff00"/>
<rect x="952" y="339" width="1" height="13" fill="#ff0000"/>
<rect x="951" y="344" width="3" height="6" fill="#ff0000"/>
<rect x="956" y="342" width="1" height="44" fill="#00ff00"/>
<rect x="955" y="344" width="3" height="37" fill="#00ff00"/>
<rect x="960" y="375" width="1" height="8" fill="#ff0000"/>
<rect x="959" y="379" width="3" height="3" fill="#ff0000"/>
<rect x="964" y="335" width="1" height="32" fill="#ff0000"/>
<rect x="963" y="342" width="3" height="11" fill="#ff0000"/>
<rect x="968" y="328" width="1" height="21" fill="#00ff00"/>
<rect x="967" y="342" width="3" height="3" fill="#00ff00"/>
<rect x="972" y="340" width="1" height="30" fill="#00ff00"/>
<rect x="971" y="343" width="3" height="22" fill="#00ff00"/>
<rect x="976" y="350" width="1" height="21" fill="#ff0000"/>
<rect x="975" y="358" width="3" height="7" fill="#ff0000"/>
<rect x="980" y="357" width="1" height="24" fill="#00ff00"/>
<rect x="979" y="358" width="3" height="19" fill="#00ff00"/>
<rect x="984" y="373" width="1" height="5" fill="#ff0000"/>
<rect x="983" y="374" width="3" height="4" fill="#ff0000"/>
<rect x="988" y="372" width="1" height="20" fill="#00ff00"/>
<rect x="987" y="374" width="3" height="13" fill="#00ff00"/>
<rect x="992" y="382" width="1" height="15" fill="#00ff00"/>
<rect x="991" y="386" width="3" height="11" fill="#00ff00"/>
<rect x="996" y="394" width="1" height="23" fill="#00ff00"/>
<rect x="995" y="395" width="3" height="15" fill="#00ff00"/>
<rect x="1000" y="385" width="1" height="28" fill="#ff0000"/>
<rect x="999" y="391" width="3" height="20" fill="#ff0000"/>
<rect x="1004" y="381" width="1" height="24" fill="#ff0000"/>
<rect x="1003" y="390" width="3" height="3" fill="#ff0000"/>
<rect x="1008" y="388" width="1" height="5" fill="#00ff00"/>
<rect x="1007" y="390" width="3" height="3" fill="#00ff00"/>
<rect x="1012" y="359" width="1" height="37" fill="#ff0000"/>
<rect x="1011" y="368" width="3" height="27" fill="#ff0000"/>
<rect x="1016" y="355" width="1" height="22" fill="#ff0000"/>
<rect x="1015" y="368" width="3" height="3" fill="#ff0000"/>
<rect x="1020" y="346" width="1" height="26" fill="#ff0000"/>
<rect x="1019" y="352" width="3" height="18" fill="#ff0000"/>
<rect x="1024" y="347" width="1" height="20" fill="#00ff00"/>
<rect x="1023" y="353" width="3" height="8" fill="#00ff00"/>
<rect x="1028" y="357" width="1" height="30" fill="#00ff00"/>
<rect x="1027" y="357" width="3" height="18" fill="#00ff00"/>
<rect x="1032" y="371" width="1" height="8" fill="#00ff00"/>
<rect x="1031" y="374" width="3" height="2" fill="#00ff00"/>
<rect x="1036" y="371" width="1" height="11" fill="#00ff00"/>
<rect x="1035" y="373" width="3" height="5" fill="#00ff00"/>
<rect x="1040" y="372" width="1" height="16" fill="#00ff00"/>
<rect x="1039" y="374" width="3" height="13" fill="#00ff00"/>
<rect x="1044" y="322" width="1" height="89" fill="#00ff00"/>
<rect x="1043" y="381" width="3" height="28" fill="#00ff00"/>
<rect x="1048" y="394" width="1" height="41" fill="#00ff00"/>
<rect x="1047" y="407" width="3" height="23" fill="#00ff00"/>
<rect x="1052" y="428" width="1" height="18" fill="#00ff00"/>
<rect x="1051" y="428" width="3" height="15" fill="#00ff00"/>
<rect x="1056" y="440" width="1" height="5" fill="#00ff00"/>
<rect x="1055" y="440" width="3" height="5" fill="#00ff00"/>
<rect x="1060" y="409" width="1" height="62" fill="#ff0000"/>
<rect x="1059" y="418" width="3" height="30" fill="#ff0000"/>
<rect x="1064" y="403" width="1" height="42" fill="#00ff00"/>
<rect x="1063" y="418" width="3" height="15" fill="#00ff00"/>
<rect x="1068" y="418" width="1" height="30" fill="#ff0000"/>
<rect x="1067" y="421" width="3" height="12" fill="#ff0000"/>
<rect x="1072" y="412" width="1" height="23" fill="#00ff00"/>
<rect x="1071" y="422" width="3" height="12" fill="#00ff00"/>
<rect x="1076" y="418" width="1" height="17" fill="#ff0000"/>
<rect x="1075" y="428" width="3" height="6" fill="#ff0000"/>
<rect x="1080" y="427" width="1" height="10" fill="#00ff00"/>
<rect x="1079" y="428" width="3" height="8" fill="#00ff00"/>
<rect x="1084" y="439" width="1" height="20" fill="#00ff00"/>
<rect x="1083" y="440" width="3" height="13" fill="#00ff00"/>
<rect x="1088" y="450" width="1" height="22" fill="#00ff00"/>
<rect x="1087" y="452" width="3" height="15" fill="#00ff00"/>
<rect x="1092" y="456" width="1" height="24" fill="#ff0000"/>
<rect x="1091" y="462" width="3" height="4" fill="#ff0000"/>
<rect x="1096" y="441" width="1" height="26" fill="#ff0000"/>
<rect x="1095" y="449" width="3" height="16" fill="#ff0000"/>
<rect x="1100" y="446" width="1" height="21" fill="#00ff00"/>
<rect x="1099" y="448" width="3" height="16" fill="#00ff00"/>
<rect x="1104" y="458" width="1" height="11" fill="#00ff00"/>
<rect x="1103" y="462" width="3" height="5" fill="#00ff00"/>
<rect x="1108" y="443" width="1" height="30" fill="#ff0000"/>
<rect x="1107" y="444" width="3" height="21" fill="#ff0000"/>
<rect x="1112" y="437" width="1" height="14" fill="#ff0000"/>
<rect x="1111" y="442" width="3" height="3" fill="#ff0000"/>
<rect x="1116" y="443" width="1" height="16" fill="#00ff00"/>
<rect x="1115" y="443" width="3" height="10" fill="#00ff00"/>
<rect x="1120" y="450" width="1" height="16" fill="#00ff00"/>
<rect x="1119" y="451" width="3" height="7" fill="#00ff00"/>
<rect x="1124" y="448" width="1" height="13" fill="#ff0000"/>
<rect x="1123" y="454" width="3" height="5" fill="#ff0000"/>
<rect x="1128" y="452" width="1" height="6" fill="#ff0000"/>
<rect x="1127" y="453" width="3" height="4" fill="#ff0000"/>
<rect x="1132" y="443" width="1" height="16" fill="#ff0000"/>
<rect x="1131" y="448" width="3" height="7" fill="#ff0000"/>
<rect x="1136" y="444" width="1" height="23" fill="#00ff00"/>
<rect x="1135" y="448" width="3" height="14" fill="#00ff00"/>
<rect x="1140" y="458" width="1" height="15" fill="#00ff00"/>
<rect x="1139" y="460" width="3" height="7" fill="#00ff00"/>
<rect x="1144" y="463" width="1" height="21" fill="#00ff00"/>
<rect x="1143" y="465" width="3" height="13" fill="#00ff00"/>
<rect x="1148" y="472" width="1" height="21" fill="#00ff00"/>
<rect x="1147" y="479" width="3" height="13" fill="#00ff00"/>
<rect x="1152" y="488" width="1" height="9" fill="#00ff00"/>
<rect x="1151" y="490" width="3" height="4" fill="#00ff00"/>
<rect x="1156" y="476" width="1" height="17" fill="#ff0000"/>
<rect x="1155" y="487" width="3" height="4" fill="#ff0000"/>
<rect x="1160" y="487" width="1" height="10" fill="#00ff00"/>
<rect x="1159" y="488" width="3" height="4" fill="#00ff00"/>
<rect x="1164" y="483" width="1" height="20" fill="#ff0000"/>
<rect x="1163" y="484" width="3" height="5" fill="#ff0000"/>
<rect x="1168" y="470" width="1" height="16" fill="#ff0000"/>
<rect x="1167" y="473" width="3" height="12" fill="#ff0000"/>
<rect x="1172" y="471" width="1" height="14" fill="#00ff00"/>
<rect x="1171" y="473" width="3" height="5" fill="#00ff00"/>
<rect x="1176" y="473" width="1" height="5" fill="#00ff00"/>
<rect x="1175" y="474" width="3" height="3" fill="#00ff00"/>
<rect x="1180" y="476" width="1" height="14" fill="#ff0000"/>
<rect x="1179" y="478" width="3" height="3" fill="#ff0000"/>
<rect x="1184" y="470" width="1" height="15" fill="#00ff00"/>
<rect x="1183" y="477" width="3" height="7" fill="#00ff00"/>
<rect x="1188" y="479" width="1" height="18" fill="#00ff00"/>
<rect x="1187" y="480" width="3" height="15" fill="#00ff00"/>
<rect x="1192" y="486" width="1" height="15" fill="#ff0000"/>
<rect x="1191" y="489" width="3" height="6" fill="#ff0000"/>
<rect x="1196" y="478" width="1" height="17" fill="#ff0000"/>
<rect x="1195" y="487" width="3" height="4" fill="#ff0000"/>
<rect x="1200" y="484" width="1" height="7" fill="#ff0000"/>
<rect x="1199" y="484" width="3" height="6" fill="#ff0000"/>
<rect x="1204" y="465" width="1" height="20" fill="#ff0000"/>
<rect x="1203" y="476" width="3" height="8" fill="#ff0000"/>
<rect x="1208" y="468" width="1" height="11" fill="#ff0000"/>
<rect x="1207" y="472" width="3" height="6" fill="#ff0000"/>
<rect x="1212" y="469" width="1" height="20" fill="#00ff00"/>
<rect x="1211" y="472" width="3" height="10" fill="#00ff00"/>
<rect x="1216" y="476" width="1" height="16" fill="#00ff00"/>
<rect x="1215" y="478" width="3" height="13" fill="#00ff00"/>
<rect x="1220" y="486" width="1" height="5" fill="#ff0000"/>
<rect x="1219" y="489" width="3" height="2" fill="#ff0000"/>
<rect x="1224" y="476" width="1" height="16" fill="#ff0000"/>
<rect x="1223" y="477" width="3" height="13" fill="#ff0000"/>
<rect x="1228" y="475" width="1" height="17" fill="#00ff00"/>
<rect x="1227" y="477" width="3" height="9" fill="#00ff00"/>
<rect x="1232" y="484" width="1" height="17" fill="#00ff00"/>
<rect x="1231" y="485" width="3" height="14" fill="#00ff00"/>
<rect x="1236" y="488" width="1" height="21" fill="#00ff00"/>
<rect x="1235" y="497" width="3" height="7" fill="#00ff00"/>
<rect x="1240" y="497" width="1" height="8" fill="#ff0000"/>
<rect x="1239" y="500" width="3" height="4" fill="#ff0000"/>
<rect x="1243" y="497" width="3" height="1" fill="#000"/>
<rect x="1248" y="503" width="1" height="37" fill="#00ff00"/>
<rect x="1247" y="504" width="3" height="29" fill="#00ff00"/>
<rect x="1252" y="522" width="1" height="16" fill="#00ff00"/>
<rect x="1251" y="531" width="3" height="2" fill="#00ff00"/>
</g>
<path d="M518 94h3v1h-3zM514 95h4v1h-4zM521 95h2v1h-2zM510 96h4v1h-4zM523 96h3v1h-3zM506 97h4v1h-4zM526 97h3v1h-3zM502 98h4v1h-4zM529 98h2v1h-2zM499 99h3v1h-3zM531 99h3v1h-3zM497 100h2v1h-2zM534 100h4v1h-4zM494 101h3v1h-3zM538 101h4v1h-4zM491 102h3v1h-3zM542 102h8v1h-8zM489 103h2v1h-2zM550 103h12v1h-12zM486 104h3v1h-3zM562 104h4v1h-4zM483 105h3v1h-3zM566 105h4v1h-4zM481 106h2v1h-2zM570 106h4v1h-4zM478 107h3v1h-3zM574 107h4v1h-4zM475 108h3v1h-3zM578 108h3v1h-3zM473 109h2v1h-2zM581 109h2v1h-2zM470 110h3v1h-3zM583 110h7v1h-7zM463 111h7v1h-7zM590 111h3v1h-3zM461 112h2v1h-2zM593 112h2v1h-2zM458 113h3v1h-3zM595 113h3v1h-3zM455 114h3v1h-3zM598 114h4v1h-4zM453 115h2v1h-2zM602 115h3v1h-3zM451 116h2v1h-2zM605 116h2v1h-2zM449 117h2v1h-2zM607 117h2v1h-2zM367 118h6v1h-6zM446 118h3v1h-3zM609 118h1v1h-1zM365 119h2v1h-2zM373 119h2v1h-2zM442 119h4v1h-4zM610 119h2v1h-2zM363 120h2v1h-2zM375 120h7v1h-7zM418 120h8v1h-8zM438 120h4v1h-4zM612 120h1v1h-1zM361 121h2v1h-2zM382 121h4v1h-4zM410 121h8v1h-8zM426 121h12v1h-12zM613 121h2v1h-2zM358 122h3v1h-3zM386 122h8v1h-8zM406 122h4v1h-4zM615 122h2v1h-2zM354 123h4v1h-4zM394 123h12v1h-12zM617 123h2v1h-2zM350 124h4v1h-4zM619 124h3v1h-3zM347 125h3v1h-3zM622 125h3v1h-3zM345 126h2v1h-2zM625 126h1v1h-1zM343 127h2v1h-2zM626 127h2v1h-2zM341 128h2v1h-2zM628 128h1v1h-1zM339 129h2v1h-2zM629 129h2v1h-2zM337 130h2v1h-2zM631 130h2v1h-2zM336 131h1v1h-1zM633 131h1v1h-1zM334 132h2v1h-2zM634 132h2v1h-2zM333 133h1v1h-1zM636 133h1v1h-1zM331 134h2v1h-2zM637 134h1v1h-1zM329 135h2v1h-2zM638 135h2v1h-2zM328 136h1v1h-1zM640 136h2v1h-2zM326 137h2v1h-2zM642 137h4v1h-4zM325 138h1v1h-1zM646 138h3v1h-3zM324 139h1v1h-1zM649 139h2v1h-2zM322 140h2v1h-2zM651 140h3v1h-3zM321 141h1v1h-1zM654 141h4v1h-4zM320 142h1v1h-1zM658 142h3v1h-3zM318 143h2v1h-2zM661 143h2v1h-2zM317 144h1v1h-1zM663 144h2v1h-2zM316 145h1v1h-1zM665 145h2v1h-2zM314 146h2v1h-2zM667 146h2v1h-2zM313 147h1v1h-1zM669 147h2v1h-2zM311 148h2v1h-2zM671 148h2v1h-2zM309 149h2v1h-2zM673 149h2v1h-2zM308 150h1v1h-1zM675 150h2v1h-2zM306 151h2v1h-2zM677 151h2v1h-2zM305 152h1v1h-1zM679 152h2v1h-2zM303 153h2v1h-2zM681 153h2v1h-2zM301 154h2v1h-2zM683 154h2v1h-2zM299 155h2v1h-2zM685 155h2v1h-2zM297 156h2v1h-2zM687 156h3v1h-3zM294 157h3v1h-3zM690 157h4v1h-4zM291 158h3v1h-3zM694 158h4v1h-4zM289 159h2v1h-2zM698 159h3v1h-3zM286 160h3v1h-3zM701 160h2v1h-2zM283 161h3v1h-3zM703 161h3v1h-3zM281 162h2v1h-2zM706 162h3v1h-3zM276 163h5v1h-5zM709 163h2v1h-2zM274 164h2v1h-2zM711 164h2v1h-2zM273 165h1v1h-1zM713 165h2v1h-2zM271 166h2v1h-2zM715 166h2v1h-2zM269 167h2v1h-2zM717 167h2v1h-2zM268 168h1v1h-1zM719 168h2v1h-2zM266 169h2v1h-2zM721 169h2v1h-2zM265 170h1v1h-1zM723 170h2v1h-2zM264 171h1v1h-1zM725 171h2v1h-2zM262 172h2v1h-2zM727 172h2v1h-2zM261 173h1v1h-1zM729 173h1v1h-1zM260 174h1v1h-1zM730 174h2v1h-2zM0 175h2v1h-2zM258 175h2v1h-2zM732 175h1v1h-1zM2 176h3v1h-3zM257 176h1v1h-1zM733 176h1v1h-1zM5 177h2v1h-2zM256 177h1v1h-1zM734 177h2v1h-2zM7 178h2v1h-2zM190 178h8v1h-8zM254 178h2v1h-2zM736 178h1v1h-1zM9 179h1v1h-1zM186 179h4v1h-4zM198 179h4v1h-4zM253 179h1v1h-1zM737 179h2v1h-2zM10 180h2v1h-2zM183 180h3v1h-3zM202 180h3v1h-3zM252 180h1v1h-1zM739 180h2v1h-2zM12 181h1v1h-1zM181 181h2v1h-2zM205 181h2v1h-2zM250 181h2v1h-2zM741 181h2v1h-2zM13 182h2v1h-2zM179 182h2v1h-2zM207 182h3v1h-3zM249 182h1v1h-1zM743 182h3v1h-3zM15 183h2v1h-2zM177 183h2v1h-2zM210 183h4v1h-4zM246 183h3v1h-3zM746 183h3v1h-3zM17 184h1v1h-1zM175 184h2v1h-2zM214 184h3v1h-3zM238 184h8v1h-8zM749 184h2v1h-2zM18 185h2v1h-2zM173 185h2v1h-2zM217 185h2v1h-2zM231 185h7v1h-7zM751 185h3v1h-3zM20 186h1v1h-1zM172 186h1v1h-1zM219 186h7v1h-7zM229 186h2v1h-2zM754 186h4v1h-4zM21 187h2v1h-2zM171 187h1v1h-1zM226 187h3v1h-3zM758 187h4v1h-4zM23 188h2v1h-2zM170 188h1v1h-1zM762 188h3v1h-3zM25 189h1v1h-1zM169 189h1v1h-1zM765 189h2v1h-2zM26 190h2v1h-2zM168 190h1v1h-1zM767 190h3v1h-3zM28 191h1v1h-1zM167 191h1v1h-1zM770 191h3v1h-3zM29 192h1v1h-1zM166 192h1v1h-1zM773 192h2v1h-2zM30 193h1v1h-1zM165 193h1v1h-1zM775 193h2v1h-2zM31 194h1v1h-1zM164 194h1v1h-1zM777 194h2v1h-2zM32 195h1v1h-1zM162 195h2v1h-2zM779 195h2v1h-2zM33 196h2v1h-2zM161 196h1v1h-1zM781 196h2v1h-2zM35 197h2v1h-2zM160 197h1v1h-1zM783 197h3v1h-3zM37 198h1v1h-1zM159 198h1v1h-1zM786 198h3v1h-3zM38 199h2v1h-2zM158 199h1v1h-1zM789 199h2v1h-2zM40 200h1v1h-1zM157 200h1v1h-1zM791 200h3v1h-3zM41 201h1v1h-1zM155 201h2v1h-2zM794 201h3v1h-3zM42 202h2v1h-2zM153 202h2v1h-2zM797 202h2v1h-2zM44 203h1v1h-1zM152 203h1v1h-1zM799 203h2v1h-2zM45 204h1v1h-1zM150 204h2v1h-2zM801 204h1v1h-1zM46 205h2v1h-2zM149 205h1v1h-1zM802 205h2v1h-2zM48 206h1v1h-1zM147 206h2v1h-2zM804 206h1v1h-1zM49 207h1v1h-1zM145 207h2v1h-2zM805 207h2v1h-2zM50 208h2v1h-2zM143 208h2v1h-2zM807 208h2v1h-2zM52 209h1v1h-1zM141 209h2v1h-2zM809 209h1v1h-1zM53 210h2v1h-2zM139 210h2v1h-2zM810 210h1v1h-1zM55 211h2v1h-2zM137 211h2v1h-2zM811 211h1v1h-1zM57 212h2v1h-2zM134 212h3v1h-3zM812 212h1v1h-1zM59 213h3v1h-3zM130 213h4v1h-4zM813 213h1v1h-1zM62 214h4v1h-4zM118 214h12v1h-12zM814 214h2v1h-2zM66 215h3v1h-3zM114 215h4v1h-4zM816 215h1v1h-1zM69 216h2v1h-2zM110 216h4v1h-4zM817 216h1v1h-1zM71 217h7v1h-7zM90 217h4v1h-4zM98 217h12v1h-12zM818 217h2v1h-2zM78 218h12v1h-12zM94 218h4v1h-4zM820 218h1v1h-1zM821 219h1v1h-1zM822 220h1v1h-1zM823 221h1v1h-1zM824 222h1v1h-1zM825 223h1v1h-1zM826 224h2v1h-2zM828 225h1v1h-1zM829 226h1v1h-1zM830 227h1v1h-1zM831 228h1v1h-1zM832 229h1v1h-1zM833 230h1v1h-1zM834 231h2v1h-2zM836 232h1v1h-1zM837 233h1v1h-1zM838 234h2v1h-2zM840 235h1v1h-1zM841 236h1v1h-1zM842 237h2v1h-2zM844 238h1v1h-1zM845 239h1v1h-1zM846 240h2v1h-2zM848 241h1v1h-1zM849 242h2v1h-2zM851 243h2v1h-2zM853 244h1v1h-1zM854 245h2v1h-2zM856 246h1v1h-1zM857 247h2v1h-2zM859 248h2v1h-2zM861 249h1v1h-1zM862 250h2v1h-2zM864 251h1v1h-1zM865 252h1v1h-1zM866 253h1v1h-1zM867 254h1v1h-1zM868 255h1v1h-1zM869 256h1v1h-1zM870 257h2v1h-2zM872 258h1v1h-1zM873 259h1v1h-1zM874 260h1v1h-1zM875 261h1v1h-1zM876 262h1v1h-1zM877 263h1v1h-1zM878 264h1v1h-1zM879 265h1v1h-1zM880 266h1v1h-1zM881 267h1v1h-1zM882 268h1v1h-1zM883 269h1v1h-1zM884 270h1v1h-1zM885 271h1v1h-1zM886 272h2v1h-2zM888 273h1v1h-1zM889 274h1v1h-1zM890 275h2v1h-2zM892 276h1v1h-1zM893 277h1v1h-1zM894 278h2v1h-2zM896 279h1v1h-1zM897 280h2v1h-2zM899 281h3v1h-3zM902 282h3v1h-3zM905 283h2v1h-2zM907 284h2v1h-2zM909 285h2v1h-2zM911 286h2v1h-2zM913 287h2v1h-2zM915 288h2v1h-2zM917 289h2v1h-2zM919 290h2v1h-2zM921 291h2v1h-2zM923 292h2v1h-2zM925 293h1v1h-1zM926 294h2v1h-2zM928 295h1v1h-1zM929 296h2v1h-2zM931 297h2v1h-2zM933 298h2v1h-2zM935 299h2v1h-2zM937 300h1v1h-1zM938 301h2v1h-2zM940 302h1v1h-1zM941 303h2v1h-2zM943 304h2v1h-2zM945 305h2v1h-2zM947 306h2v1h-2zM949 307h1v1h-1zM950 308h2v1h-2zM952 309h1v1h-1zM953 310h1v1h-1zM954 311h2v1h-2zM956 312h1v1h-1zM957 313h1v1h-1zM958 314h2v1h-2zM960 315h1v1h-1zM961 316h2v1h-2zM963 317h2v1h-2zM965 318h1v1h-1zM966 319h2v1h-2zM968 320h1v1h-1zM969 321h2v1h-2zM971 322h2v1h-2zM973 323h1v1h-1zM974 324h2v1h-2zM976 325h1v1h-1zM977 326h1v1h-1zM978 327h2v1h-2zM980 328h1v1h-1zM981 329h1v1h-1zM982 330h2v1h-2zM984 331h1v1h-1zM985 332h1v1h-1zM986 333h2v1h-2zM988 334h1v1h-1zM989 335h2v1h-2zM991 336h2v1h-2zM993 337h1v1h-1zM994 338h2v1h-2zM996 339h1v1h-1zM997 340h2v1h-2zM999 341h2v1h-2zM1001 342h2v1h-2zM1003 343h2v1h-2zM1005 344h2v1h-2zM1007 345h2v1h-2zM1009 346h1v1h-1zM1010 347h2v1h-2zM1012 348h2v1h-2zM1014 349h3v1h-3zM1017 350h2v1h-2zM1019 351h2v1h-2zM1021 352h1v1h-1zM1022 353h2v1h-2zM1024 354h1v1h-1zM1025 355h1v1h-1zM1026 356h2v1h-2zM1028 357h1v1h-1zM1029 358h1v1h-1zM1030 359h2v1h-2zM1032 360h1v1h-1zM1033 361h2v1h-2zM1035 362h2v1h-2zM1037 363h1v1h-1zM1038 364h1v1h-1zM1039 365h1v1h-1zM1040 366h1v1h-1zM1041 367h1v1h-1zM1042 368h2v1h-2zM1044 369h1v1h-1zM1045 370h1v1h-1zM1046 371h2v1h-2zM1048 372h1v1h-1zM1049 373h1v1h-1zM1050 374h2v1h-2zM1052 375h1v1h-1zM1053 376h1v1h-1zM1054 377h1v1h-1zM1055 378h1v1h-1zM1056 379h1v1h-1zM1057 380h2v1h-2zM1059 381h2v1h-2zM1061 382h1v1h-1zM1062 383h2v1h-2zM1064 384h1v1h-1zM1065 385h2v1h-2zM1067 386h2v1h-2zM1069 387h1v1h-1zM1070 388h2v1h-2zM1072 389h1v1h-1zM1073 390h2v1h-2zM1075 391h3v1h-3zM1078 392h3v1h-3zM1081 393h1v1h-1zM1082 394h1v1h-1zM1083 395h1v1h-1zM1084 396h1v1h-1zM1085 397h1v1h-1zM1086 398h1v1h-1zM1087 399h1v1h-1zM1088 400h1v1h-1zM1089 401h1v1h-1zM1090 402h2v1h-2zM1092 403h1v1h-1zM1093 404h1v1h-1zM1094 405h2v1h-2zM1096 406h1v1h-1zM1097 407h1v1h-1zM1098 408h2v1h-2zM1100 409h1v1h-1zM1101 410h1v1h-1zM1102 411h2v1h-2zM1104 412h1v1h-1zM1105 413h2v1h-2zM1107 414h2v1h-2zM1109 415h2v1h-2zM1111 416h3v1h-3zM1114 417h3v1h-3zM1117 418h1v1h-1zM1118 419h2v1h-2zM1120 420h1v1h-1zM1121 421h2v1h-2zM1123 422h2v1h-2zM1125 423h2v1h-2zM1127 424h2v1h-2zM1129 425h2v1h-2zM1131 426h2v1h-2zM1133 427h1v1h-1zM1134 428h2v1h-2zM1136 429h1v1h-1zM1137 430h1v1h-1zM1138 431h1v1h-1zM1139 432h1v1h-1zM1140 433h1v1h-1zM1141 434h1v1h-1zM1142 435h1v1h-1zM1143 436h1v1h-1zM1144 437h1v1h-1zM1145 438h1v1h-1zM1146 439h1v1h-1zM1147 440h1v1h-1zM1148 441h1v1h-1zM1149 442h1v1h-1zM1150 443h1v1h-1zM1151 444h1v1h-1zM1152 445h1v1h-1zM1153 446h1v1h-1zM1154 447h1v1h-1zM1155 448h1v1h-1zM1156 449h1v1h-1zM1157 450h1v1h-1zM1158 451h2v1h-2zM1160 452h1v1h-1zM1161 453h1v1h-1zM1162 454h2v1h-2zM1164 455h2v1h-2zM1166 456h4v1h-4zM1170 457h4v1h-4zM1174 458h3v1h-3zM1177 459h2v1h-2zM1179 460h2v1h-2zM1181 461h2v1h-2zM1183 462h2v1h-2zM1185 463h2v1h-2zM1187 464h2v1h-2zM1189 465h2v1h-2zM1191 466h2v1h-2zM1193 467h2v1h-2zM1195 468h2v1h-2zM1197 469h2v1h-2zM1199 470h3v1h-3zM1202 471h8v1h-8zM1210 472h4v1h-4zM1214 473h4v1h-4zM1218 474h7v1h-7zM1225 475h2v1h-2zM1227 476h3v1h-3zM1230 477h3v1h-3zM1233 478h2v1h-2zM1235 479h2v1h-2zM1237 480h2v1h-2zM1239 481h3v1h-3zM1242 482h3v1h-3zM1245 483h1v1h-1zM1246 484h2v1h-2zM1248 485h1v1h-1zM1249 486h2v1h-2zM1251 487h2v1h-2z" fill="#0000cd" shape-rendering="crispEdges"/>
<path d="M502 86h19v1h-19zM500 87h2v1h-2zM521 87h2v1h-2zM498 88h2v1h-2zM523 88h2v1h-2zM497 89h1v1h-1zM525 89h2v1h-2zM495 90h2v1h-2zM527 90h2v1h-2zM493 91h2v1h-2zM529 91h1v1h-1zM492 92h1v1h-1zM530 92h1v2h-1zM491 93h1v1h-1zM490 94h1v1h-1zM531 94h1v1h-1zM489 95h1v1h-1zM532 95h1v1h-1zM487 96h2v1h-2zM533 96h1v1h-1zM485 97h2v1h-2zM534 97h2v1h-2zM484 98h1v1h-1zM536 98h1v1h-1zM482 99h2v1h-2zM537 99h1v1h-1zM481 100h1v1h-1zM538 100h1v1h-1zM479 101h2v1h-2zM539 101h1v1h-1zM455 102h6v1h-6zM477 102h2v1h-2zM540 102h1v1h-1zM453 103h2v1h-2zM461 103h2v1h-2zM474 103h3v1h-3zM541 103h1v1h-1zM452 104h1v1h-1zM463 104h3v1h-3zM470 104h4v1h-4zM542 104h1v1h-1zM307 105h2v1h-2zM450 105h2v1h-2zM466 105h4v1h-4zM543 105h1v1h-1zM305 106h2v1h-2zM309 106h2v1h-2zM449 106h1v1h-1zM544 106h1v1h-1zM304 107h1v1h-1zM311 107h3v1h-3zM446 107h3v1h-3zM545 107h1v1h-1zM302 108h2v1h-2zM314 108h3v1h-3zM442 108h4v1h-4zM546 108h1v2h-1zM301 109h1v1h-1zM317 109h1v1h-1zM434 109h8v1h-8zM300 110h1v1h-1zM318 110h1v1h-1zM419 110h7v1h-7zM430 110h4v1h-4zM547 110h1v1h-1zM299 111h1v1h-1zM319 111h1v1h-1zM417 111h2v1h-2zM426 111h4v1h-4zM548 111h1v1h-1zM298 112h1v2h-1zM320 112h1v1h-1zM415 112h2v1h-2zM549 112h1v1h-1zM321 113h2v1h-2zM413 113h2v1h-2zM550 113h2v1h-2zM297 114h1v1h-1zM323 114h2v1h-2zM412 114h1v1h-1zM552 114h1v1h-1zM295 115h2v1h-2zM325 115h2v1h-2zM410 115h2v1h-2zM553 115h1v1h-1zM293 116h2v1h-2zM327 116h2v1h-2zM409 116h1v1h-1zM554 116h1v1h-1zM292 117h1v1h-1zM329 117h1v1h-1zM407 117h2v1h-2zM555 117h1v1h-1zM291 118h1v1h-1zM330 118h1v1h-1zM405 118h2v1h-2zM556 118h1v1h-1zM290 119h1v2h-1zM331 119h1v1h-1zM404 119h1v1h-1zM557 119h1v1h-1zM332 120h1v1h-1zM402 120h2v1h-2zM558 120h2v1h-2zM289 121h1v1h-1zM333 121h2v1h-2zM401 121h1v1h-1zM560 121h1v1h-1zM287 122h2v1h-2zM335 122h2v1h-2zM399 122h2v1h-2zM561 122h1v1h-1zM285 123h2v1h-2zM337 123h2v1h-2zM397 123h2v1h-2zM562 123h2v1h-2zM284 124h1v1h-1zM339 124h2v1h-2zM391 124h6v1h-6zM564 124h2v1h-2zM283 125h1v2h-1zM341 125h2v1h-2zM389 125h2v1h-2zM566 125h3v1h-3zM343 126h2v1h-2zM387 126h2v1h-2zM569 126h2v1h-2zM598 126h8v1h-8zM282 127h1v2h-1zM345 127h2v1h-2zM385 127h2v1h-2zM571 127h2v1h-2zM595 127h3v1h-3zM606 127h4v1h-4zM347 128h6v1h-6zM383 128h2v1h-2zM573 128h2v1h-2zM593 128h2v1h-2zM610 128h4v1h-4zM281 129h1v2h-1zM353 129h2v1h-2zM381 129h2v1h-2zM575 129h7v1h-7zM586 129h7v1h-7zM614 129h8v1h-8zM355 130h6v1h-6zM378 130h3v1h-3zM582 130h4v1h-4zM622 130h3v1h-3zM280 131h1v1h-1zM361 131h2v1h-2zM375 131h3v1h-3zM625 131h1v1h-1zM279 132h1v1h-1zM363 132h7v1h-7zM373 132h2v1h-2zM626 132h2v1h-2zM278 133h1v2h-1zM370 133h3v1h-3zM628 133h1v1h-1zM629 134h1v1h-1zM277 135h1v1h-1zM630 135h2v1h-2zM276 136h1v2h-1zM632 136h1v1h-1zM633 137h2v1h-2zM275 138h1v2h-1zM635 138h2v1h-2zM637 139h1v1h-1zM274 140h1v2h-1zM638 140h1v1h-1zM639 141h1v1h-1zM273 142h1v2h-1zM640 142h1v1h-1zM641 143h1v1h-1zM272 144h1v2h-1zM642 144h2v1h-2zM644 145h1v1h-1zM271 146h1v2h-1zM645 146h1v1h-1zM646 147h2v1h-2zM270 148h1v2h-1zM648 148h1v1h-1zM649 149h1v1h-1zM269 150h1v2h-1zM650 150h1v1h-1zM651 151h1v1h-1zM268 152h1v2h-1zM652 152h1v1h-1zM653 153h1v1h-1zM267 154h1v2h-1zM654 154h1v1h-1zM655 155h1v1h-1zM266 156h1v2h-1zM656 156h1v1h-1zM657 157h1v1h-1zM265 158h1v2h-1zM658 158h1v1h-1zM659 159h1v1h-1zM264 160h1v3h-1zM660 160h1v1h-1zM661 161h1v1h-1zM662 162h1v1h-1zM263 163h1v2h-1zM663 163h1v1h-1zM664 164h1v1h-1zM262 165h1v2h-1zM665 165h1v1h-1zM666 166h2v1h-2zM261 167h1v2h-1zM668 167h1v1h-1zM669 168h1v1h-1zM260 169h1v3h-1zM670 169h1v1h-1zM183 170h11v1h-11zM671 170h1v1h-1zM181 171h2v1h-2zM194 171h3v1h-3zM672 171h1v1h-1zM179 172h2v1h-2zM197 172h1v1h-1zM259 172h1v2h-1zM673 172h1v1h-1zM177 173h2v1h-2zM198 173h2v1h-2zM674 173h2v1h-2zM171 174h6v1h-6zM200 174h1v1h-1zM258 174h1v2h-1zM676 174h1v1h-1zM169 175h2v1h-2zM201 175h1v1h-1zM677 175h1v1h-1zM167 176h2v1h-2zM202 176h2v1h-2zM257 176h1v2h-1zM678 176h1v2h-1zM165 177h2v1h-2zM204 177h1v1h-1zM695 177h7v1h-7zM164 178h1v1h-1zM205 178h1v1h-1zM256 178h1v3h-1zM679 178h1v1h-1zM693 178h2v1h-2zM702 178h20v1h-20zM163 179h1v1h-1zM206 179h2v1h-2zM680 179h6v1h-6zM690 179h3v1h-3zM722 179h7v1h-7zM162 180h1v1h-1zM208 180h1v1h-1zM686 180h4v1h-4zM729 180h1v1h-1zM161 181h1v1h-1zM209 181h1v1h-1zM255 181h1v2h-1zM730 181h2v1h-2zM159 182h2v1h-2zM210 182h2v1h-2zM732 182h2v1h-2zM138 183h8v1h-8zM157 183h2v1h-2zM212 183h1v1h-1zM254 183h1v3h-1zM734 183h3v1h-3zM127 184h3v1h-3zM134 184h4v1h-4zM146 184h11v1h-11zM213 184h1v1h-1zM737 184h2v1h-2zM125 185h2v1h-2zM130 185h4v1h-4zM214 185h1v2h-1zM739 185h3v1h-3zM123 186h2v1h-2zM253 186h1v2h-1zM742 186h3v1h-3zM0 187h1v1h-1zM121 187h2v1h-2zM215 187h1v1h-1zM745 187h1v1h-1zM1 188h2v1h-2zM120 188h1v1h-1zM216 188h1v1h-1zM252 188h1v2h-1zM746 188h2v1h-2zM3 189h2v1h-2zM119 189h1v1h-1zM217 189h1v1h-1zM748 189h1v1h-1zM5 190h1v1h-1zM118 190h1v1h-1zM218 190h1v1h-1zM251 190h1v2h-1zM749 190h1v1h-1zM6 191h2v1h-2zM117 191h1v1h-1zM219 191h1v1h-1zM750 191h2v1h-2zM8 192h1v1h-1zM116 192h1v1h-1zM220 192h1v1h-1zM250 192h1v1h-1zM752 192h1v1h-1zM9 193h2v1h-2zM115 193h1v1h-1zM221 193h1v1h-1zM249 193h1v2h-1zM753 193h1v1h-1zM11 194h2v1h-2zM114 194h1v1h-1zM222 194h1v1h-1zM754 194h1v1h-1zM13 195h1v1h-1zM113 195h1v1h-1zM223 195h1v1h-1zM247 195h2v1h-2zM755 195h1v1h-1zM14 196h2v1h-2zM112 196h1v1h-1zM224 196h1v1h-1zM245 196h2v1h-2zM756 196h1v1h-1zM16 197h1v1h-1zM110 197h2v1h-2zM225 197h1v1h-1zM238 197h7v1h-7zM757 197h2v1h-2zM17 198h1v1h-1zM109 198h1v1h-1zM226 198h2v1h-2zM230 198h8v1h-8zM759 198h2v1h-2zM18 199h2v1h-2zM108 199h1v1h-1zM228 199h2v1h-2zM761 199h1v1h-1zM20 200h1v1h-1zM107 200h1v1h-1zM762 200h2v1h-2zM21 201h1v1h-1zM106 201h1v2h-1zM764 201h1v1h-1zM22 202h1v1h-1zM765 202h1v1h-1zM23 203h1v1h-1zM105 203h1v1h-1zM766 203h2v1h-2zM24 204h1v1h-1zM104 204h1v1h-1zM768 204h1v1h-1zM25 205h1v1h-1zM103 205h1v1h-1zM769 205h2v1h-2zM26 206h1v1h-1zM102 206h1v2h-1zM771 206h2v1h-2zM27 207h1v1h-1zM773 207h1v1h-1zM28 208h1v1h-1zM101 208h1v1h-1zM774 208h1v1h-1zM29 209h1v2h-1zM100 209h1v1h-1zM775 209h1v1h-1zM99 210h1v2h-1zM776 210h1v1h-1zM30 211h1v1h-1zM777 211h1v1h-1zM31 212h1v2h-1zM98 212h1v2h-1zM778 212h2v1h-2zM780 213h1v1h-1zM32 214h1v1h-1zM97 214h1v2h-1zM781 214h1v1h-1zM33 215h1v1h-1zM782 215h2v1h-2zM34 216h1v2h-1zM96 216h1v1h-1zM784 216h2v1h-2zM95 217h1v2h-1zM786 217h4v1h-4zM35 218h1v1h-1zM790 218h3v1h-3zM36 219h1v1h-1zM94 219h1v1h-1zM793 219h1v1h-1zM37 220h1v1h-1zM93 220h1v2h-1zM794 220h2v1h-2zM38 221h1v1h-1zM796 221h1v1h-1zM39 222h1v1h-1zM92 222h1v1h-1zM797 222h1v1h-1zM40 223h1v1h-1zM91 223h1v1h-1zM798 223h2v1h-2zM41 224h1v1h-1zM90 224h1v2h-1zM800 224h1v1h-1zM42 225h1v2h-1zM801 225h1v1h-1zM89 226h1v1h-1zM802 226h2v1h-2zM43 227h1v1h-1zM88 227h1v1h-1zM804 227h1v1h-1zM44 228h1v1h-1zM87 228h1v1h-1zM805 228h1v1h-1zM45 229h1v1h-1zM86 229h1v2h-1zM806 229h2v1h-2zM46 230h1v1h-1zM808 230h1v1h-1zM47 231h1v1h-1zM85 231h1v1h-1zM809 231h1v1h-1zM48 232h1v1h-1zM84 232h1v1h-1zM810 232h2v1h-2zM49 233h1v1h-1zM83 233h1v1h-1zM812 233h1v1h-1zM50 234h1v1h-1zM82 234h1v1h-1zM813 234h1v1h-1zM51 235h1v1h-1zM81 235h1v1h-1zM814 235h1v1h-1zM52 236h1v1h-1zM80 236h1v1h-1zM815 236h1v1h-1zM53 237h1v1h-1zM78 237h2v1h-2zM816 237h1v1h-1zM54 238h2v1h-2zM77 238h1v1h-1zM817 238h1v1h-1zM56 239h1v1h-1zM76 239h1v1h-1zM818 239h1v2h-1zM57 240h1v1h-1zM74 240h2v1h-2zM58 241h2v1h-2zM73 241h1v1h-1zM819 241h1v1h-1zM60 242h13v1h-13zM820 242h1v1h-1zM821 243h1v1h-1zM822 244h1v2h-1zM823 246h1v1h-1zM824 247h1v1h-1zM825 248h1v1h-1zM826 249h1v1h-1zM827 250h1v1h-1zM828 251h1v1h-1zM829 252h1v1h-1zM830 253h2v1h-2zM832 254h1v1h-1zM833 255h1v1h-1zM834 256h2v1h-2zM836 257h1v1h-1zM837 258h1v1h-1zM838 259h1v1h-1zM839 260h1v1h-1zM840 261h1v1h-1zM841 262h1v1h-1zM842 263h1v1h-1zM843 264h1v1h-1zM844 265h1v1h-1zM845 266h1v1h-1zM846 267h2v1h-2zM848 268h1v1h-1zM849 269h1v1h-1zM850 270h1v1h-1zM851 271h1v1h-1zM852 272h1v1h-1zM853 273h1v1h-1zM854 274h2v1h-2zM856 275h2v1h-2zM858 276h3v1h-3zM861 277h1v1h-1zM862 278h2v1h-2zM864 279h1v1h-1zM865 280h2v1h-2zM867 281h2v1h-2zM869 282h1v1h-1zM870 283h1v1h-1zM871 284h1v1h-1zM872 285h1v1h-1zM873 286h1v1h-1zM874 287h1v2h-1zM875 289h1v1h-1zM876 290h1v1h-1zM877 291h1v1h-1zM878 292h2v1h-2zM880 293h1v1h-1zM881 294h1v1h-1zM882 295h2v1h-2zM884 296h1v1h-1zM885 297h1v1h-1zM886 298h2v1h-2zM888 299h2v1h-2zM890 300h3v1h-3zM893 301h1v1h-1zM894 302h2v1h-2zM896 303h2v1h-2zM898 304h15v1h-15zM913 305h2v1h-2zM915 306h7v1h-7zM922 307h4v1h-4zM926 308h8v1h-8zM934 309h3v1h-3zM937 310h2v1h-2zM939 311h2v1h-2zM941 312h2v1h-2zM943 313h2v1h-2zM945 314h1v1h-1zM946 315h1v1h-1zM947 316h1v1h-1zM948 317h1v1h-1zM949 318h2v1h-2zM951 319h2v1h-2zM953 320h1v2h-1zM954 322h1v1h-1zM955 323h1v2h-1zM956 325h1v1h-1zM957 326h1v2h-1zM958 328h1v2h-1zM959 330h1v2h-1zM960 332h1v1h-1zM961 333h1v1h-1zM962 334h1v1h-1zM963 335h1v1h-1zM964 336h1v1h-1zM965 337h1v1h-1zM966 338h1v1h-1zM967 339h1v1h-1zM968 340h1v1h-1zM969 341h1v1h-1zM970 342h1v2h-1zM971 344h1v1h-1zM972 345h1v1h-1zM973 346h1v1h-1zM974 347h1v2h-1zM975 349h1v1h-1zM976 350h1v1h-1zM977 351h1v1h-1zM978 352h1v1h-1zM979 353h1v1h-1zM980 354h1v1h-1zM981 355h2v1h-2zM983 356h2v1h-2zM985 357h1v1h-1zM986 358h1v1h-1zM987 359h1v1h-1zM988 360h1v1h-1zM989 361h1v1h-1zM990 362h1v1h-1zM991 363h1v1h-1zM992 364h1v1h-1zM993 365h1v1h-1zM994 366h1v1h-1zM995 367h1v1h-1zM996 368h1v1h-1zM997 369h1v1h-1zM998 370h2v1h-2zM1000 371h1v1h-1zM1001 372h1v1h-1zM1002 373h2v1h-2zM1004 374h1v1h-1zM1005 375h1v1h-1zM1006 376h2v1h-2zM1010 376h12v1h-12zM1008 377h2v1h-2zM1022 377h4v1h-4zM1026 378h4v1h-4zM1030 379h8v1h-8zM1038 380h3v1h-3zM1041 381h2v1h-2zM1043 382h2v1h-2zM1045 383h2v1h-2zM1047 384h2v1h-2zM1049 385h1v1h-1zM1050 386h2v1h-2zM1052 387h1v1h-1zM1053 388h1v1h-1zM1054 389h2v1h-2zM1056 390h1v1h-1zM1057 391h2v1h-2zM1059 392h2v1h-2zM1061 393h1v1h-1zM1062 394h2v1h-2zM1064 395h1v1h-1zM1065 396h1v1h-1zM1066 397h1v1h-1zM1067 398h1v1h-1zM1068 399h1v1h-1zM1069 400h1v1h-1zM1070 401h1v2h-1zM1071 403h1v1h-1zM1072 404h1v1h-1zM1073 405h1v1h-1zM1074 406h1v2h-1zM1075 408h1v1h-1zM1076 409h1v1h-1zM1077 410h1v1h-1zM1078 411h1v2h-1zM1079 413h1v1h-1zM1080 414h1v1h-1zM1081 415h1v2h-1zM1082 417h1v1h-1zM1083 418h1v2h-1zM1084 420h1v1h-1zM1085 421h1v2h-1zM1086 423h1v1h-1zM1087 424h1v2h-1zM1088 426h1v1h-1zM1089 427h1v2h-1zM1090 429h1v2h-1zM1091 431h1v2h-1zM1092 433h1v1h-1zM1093 434h1v1h-1zM1094 435h1v1h-1zM1095 436h1v1h-1zM1096 437h1v1h-1zM1097 438h1v1h-1zM1098 439h1v1h-1zM1099 440h1v1h-1zM1100 441h1v1h-1zM1101 442h1v1h-1zM1102 443h2v1h-2zM1104 444h9v1h-9zM1113 445h2v1h-2zM1115 446h2v1h-2zM1117 447h2v1h-2zM1119 448h2v1h-2zM1121 449h2v1h-2zM1123 450h2v1h-2zM1125 451h2v1h-2zM1127 452h3v1h-3zM1130 453h3v1h-3zM1133 454h2v1h-2zM1135 455h3v1h-3zM1138 456h4v1h-4zM1142 457h3v1h-3zM1145 458h2v1h-2zM1147 459h2v1h-2zM1149 460h1v1h-1zM1150 461h2v1h-2zM1152 462h1v1h-1zM1153 463h2v1h-2zM1155 464h3v1h-3zM1158 465h3v1h-3zM1161 466h1v1h-1zM1162 467h2v1h-2zM1164 468h1v1h-1zM1165 469h2v1h-2zM1167 470h2v1h-2zM1169 471h2v1h-2zM1171 472h2v1h-2zM1173 473h2v1h-2zM1175 474h3v1h-3zM1178 475h3v1h-3zM1181 476h1v1h-1zM1182 477h2v1h-2zM1184 478h1v1h-1zM1185 479h1v1h-1zM1186 480h2v1h-2zM1188 481h1v1h-1zM1189 482h2v1h-2zM1207 482h19v1h-19zM1191 483h3v1h-3zM1205 483h2v1h-2zM1226 483h4v1h-4zM1194 484h4v1h-4zM1202 484h3v1h-3zM1230 484h3v1h-3zM1198 485h4v1h-4zM1233 485h2v1h-2zM1235 486h2v1h-2zM1237 487h2v1h-2zM1239 488h6v1h-6zM1245 489h1v1h-1zM1246 490h2v1h-2zM1248 491h1v1h-1zM1249 492h1v1h-1zM1250 493h2v1h-2zM1252 494h1v1h-1z" fill="#ff0000" shape-rendering="crispEdges"/>
<path d="M502 72h4v1h-4zM500 73h2v1h-2zM506 73h3v1h-3zM498 74h2v1h-2zM508 74h1v1h-1zM497 75h1v1h-1zM509 75h1v2h-1zM494 76h3v1h-3zM492 77h2v1h-2zM510 77h1v3h-1zM492 78h1v1h-1zM491 79h1v2h-1zM511 80h1v2h-1zM490 81h1v2h-1zM512 82h1v2h-1zM489 83h1v2h-1zM513 84h1v2h-1zM488 85h1v1h-1zM487 86h1v1h-1zM514 86h1v1h-1zM486 87h1v2h-1zM515 87h1v2h-1zM485 89h1v1h-1zM516 89h1v1h-1zM484 90h1v1h-1zM517 90h1v2h-1zM483 91h1v1h-1zM482 92h1v2h-1zM518 92h1v1h-1zM420 93h1v1h-1zM519 93h1v2h-1zM419 94h1v2h-1zM421 94h1v1h-1zM481 94h1v1h-1zM422 95h1v2h-1zM480 95h1v1h-1zM520 95h1v2h-1zM418 96h1v2h-1zM478 96h2v1h-2zM268 97h5v1h-5zM423 97h1v1h-1zM462 97h3v1h-3zM477 97h1v1h-1zM521 97h1v3h-1zM268 98h1v1h-1zM273 98h2v1h-2zM417 98h1v2h-1zM424 98h1v1h-1zM460 98h2v1h-2zM465 98h2v1h-2zM475 98h2v1h-2zM267 99h1v3h-1zM275 99h2v1h-2zM425 99h1v2h-1zM458 99h2v1h-2zM467 99h3v1h-3zM473 99h2v1h-2zM277 100h1v2h-1zM416 100h1v1h-1zM457 100h1v1h-1zM470 100h3v1h-3zM522 100h1v2h-1zM415 101h1v1h-1zM426 101h1v1h-1zM455 101h2v1h-2zM266 102h1v3h-1zM278 102h1v1h-1zM414 102h1v2h-1zM427 102h1v2h-1zM453 102h2v1h-2zM523 102h1v3h-1zM279 103h1v2h-1zM452 103h1v1h-1zM413 104h1v1h-1zM428 104h1v1h-1zM451 104h1v1h-1zM265 105h1v3h-1zM280 105h1v1h-1zM412 105h1v1h-1zM429 105h1v1h-1zM450 105h1v2h-1zM524 105h1v2h-1zM281 106h1v1h-1zM411 106h1v2h-1zM430 106h1v2h-1zM282 107h2v1h-2zM449 107h1v1h-1zM525 107h1v2h-1zM264 108h1v4h-1zM284 108h1v1h-1zM292 108h1v1h-1zM410 108h1v1h-1zM431 108h1v1h-1zM448 108h1v1h-1zM285 109h1v1h-1zM291 109h1v1h-1zM293 109h1v2h-1zM315 109h2v1h-2zM409 109h1v2h-1zM432 109h2v1h-2zM447 109h1v1h-1zM526 109h1v2h-1zM286 110h1v2h-1zM290 110h1v2h-1zM308 110h2v1h-2zM313 110h2v1h-2zM317 110h1v2h-1zM434 110h3v1h-3zM446 110h1v1h-1zM294 111h1v1h-1zM300 111h1v1h-1zM306 111h2v1h-2zM310 111h3v1h-3zM408 111h1v1h-1zM437 111h1v1h-1zM445 111h1v1h-1zM527 111h1v2h-1zM263 112h1v4h-1zM287 112h1v1h-1zM289 112h1v1h-1zM295 112h1v2h-1zM298 112h2v1h-2zM301 112h2v1h-2zM305 112h1v1h-1zM318 112h1v2h-1zM407 112h1v2h-1zM438 112h1v1h-1zM443 112h2v1h-2zM288 113h1v1h-1zM297 113h1v1h-1zM303 113h2v1h-2zM439 113h1v1h-1zM441 113h2v1h-2zM528 113h1v2h-1zM296 114h1v1h-1zM319 114h1v2h-1zM406 114h1v1h-1zM440 114h1v1h-1zM405 115h1v2h-1zM529 115h1v2h-1zM262 116h1v5h-1zM320 116h1v1h-1zM321 117h2v1h-2zM382 117h4v1h-4zM404 117h1v1h-1zM530 117h1v2h-1zM323 118h2v1h-2zM380 118h2v1h-2zM386 118h4v1h-4zM403 118h1v2h-1zM325 119h1v2h-1zM378 119h2v1h-2zM390 119h7v1h-7zM531 119h1v2h-1zM377 120h1v1h-1zM397 120h1v1h-1zM402 120h1v1h-1zM261 121h1v4h-1zM326 121h1v2h-1zM374 121h3v1h-3zM398 121h1v1h-1zM401 121h1v2h-1zM532 121h1v1h-1zM370 122h4v1h-4zM399 122h1v1h-1zM533 122h1v1h-1zM327 123h1v2h-1zM368 123h2v1h-2zM400 123h1v1h-1zM534 123h1v2h-1zM566 123h4v1h-4zM367 124h1v1h-1zM563 124h3v1h-3zM570 124h7v1h-7zM604 124h2v1h-2zM260 125h1v4h-1zM328 125h1v2h-1zM366 125h1v1h-1zM535 125h1v1h-1zM561 125h2v1h-2zM577 125h1v1h-1zM602 125h2v1h-2zM606 125h3v1h-3zM365 126h1v1h-1zM536 126h1v1h-1zM560 126h1v1h-1zM578 126h1v1h-1zM601 126h1v1h-1zM609 126h2v1h-2zM329 127h1v2h-1zM364 127h1v1h-1zM537 127h1v2h-1zM559 127h1v1h-1zM579 127h1v1h-1zM600 127h1v1h-1zM611 127h2v1h-2zM363 128h1v1h-1zM558 128h1v1h-1zM580 128h1v1h-1zM599 128h1v1h-1zM613 128h2v1h-2zM259 129h1v3h-1zM330 129h1v2h-1zM362 129h1v1h-1zM538 129h1v2h-1zM557 129h1v1h-1zM581 129h1v1h-1zM598 129h1v1h-1zM615 129h2v1h-2zM361 130h1v1h-1zM554 130h3v1h-3zM582 130h1v1h-1zM597 130h1v1h-1zM617 130h1v1h-1zM331 131h1v2h-1zM359 131h2v1h-2zM539 131h1v2h-1zM552 131h2v1h-2zM583 131h1v1h-1zM594 131h3v1h-3zM618 131h2v1h-2zM258 132h1v4h-1zM357 132h2v1h-2zM550 132h2v1h-2zM584 132h2v1h-2zM590 132h4v1h-4zM620 132h2v1h-2zM332 133h1v2h-1zM356 133h1v1h-1zM540 133h1v1h-1zM549 133h1v1h-1zM586 133h4v1h-4zM622 133h3v1h-3zM355 134h1v1h-1zM540 134h2v1h-2zM546 134h3v1h-3zM625 134h1v2h-1zM333 135h1v2h-1zM354 135h1v1h-1zM542 135h4v1h-4zM257 136h1v3h-1zM353 136h1v1h-1zM626 136h1v2h-1zM334 137h1v2h-1zM352 137h1v1h-1zM351 138h1v1h-1zM627 138h1v2h-1zM256 139h1v4h-1zM335 139h1v2h-1zM350 139h1v2h-1zM628 140h1v1h-1zM336 141h1v1h-1zM349 141h1v1h-1zM629 141h1v2h-1zM336 142h5v1h-5zM348 142h1v1h-1zM255 143h1v4h-1zM341 143h1v1h-1zM346 143h2v1h-2zM630 143h1v2h-1zM342 144h2v1h-2zM345 144h1v1h-1zM344 145h1v1h-1zM631 145h1v2h-1zM254 147h1v4h-1zM632 147h1v2h-1zM633 149h1v2h-1zM253 151h1v4h-1zM634 151h1v2h-1zM635 153h1v2h-1zM175 155h2v1h-2zM252 155h1v2h-1zM636 155h1v3h-1zM173 156h2v1h-2zM177 156h2v1h-2zM172 157h1v1h-1zM179 157h2v1h-2zM251 157h1v1h-1zM171 158h1v1h-1zM181 158h1v1h-1zM250 158h1v2h-1zM637 158h1v3h-1zM170 159h1v1h-1zM182 159h2v1h-2zM169 160h1v1h-1zM184 160h1v1h-1zM249 160h1v1h-1zM168 161h1v1h-1zM185 161h1v2h-1zM248 161h1v2h-1zM638 161h1v2h-1zM167 162h1v2h-1zM186 163h1v2h-1zM247 163h1v2h-1zM639 163h1v3h-1zM166 164h1v2h-1zM187 165h1v2h-1zM246 165h1v2h-1zM165 166h1v2h-1zM640 166h1v2h-1zM188 167h1v1h-1zM245 167h1v2h-1zM164 168h1v1h-1zM189 168h1v2h-1zM641 168h1v2h-1zM163 169h1v1h-1zM244 169h1v2h-1zM162 170h1v2h-1zM190 170h1v1h-1zM642 170h1v2h-1zM191 171h1v2h-1zM243 171h1v1h-1zM700 171h2v1h-2zM706 171h3v1h-3zM161 172h1v1h-1zM242 172h1v2h-1zM643 172h1v2h-1zM698 172h2v1h-2zM702 172h4v1h-4zM709 172h2v1h-2zM160 173h1v1h-1zM192 173h1v1h-1zM697 173h1v1h-1zM711 173h2v1h-2zM159 174h1v2h-1zM193 174h1v2h-1zM241 174h1v1h-1zM644 174h2v1h-2zM696 174h1v1h-1zM713 174h1v1h-1zM240 175h1v2h-1zM646 175h4v1h-4zM654 175h7v1h-7zM695 175h1v1h-1zM714 175h1v2h-1zM158 176h1v2h-1zM194 176h1v2h-1zM650 176h4v1h-4zM661 176h1v1h-1zM694 176h1v1h-1zM104 177h1v1h-1zM239 177h1v2h-1zM662 177h2v1h-2zM693 177h1v1h-1zM715 177h1v1h-1zM102 178h2v1h-2zM105 178h1v1h-1zM157 178h1v2h-1zM195 178h1v2h-1zM664 178h1v1h-1zM692 178h1v1h-1zM716 178h1v1h-1zM101 179h1v1h-1zM106 179h1v1h-1zM238 179h1v3h-1zM665 179h2v1h-2zM691 179h1v1h-1zM717 179h2v1h-2zM100 180h1v1h-1zM107 180h1v1h-1zM156 180h1v1h-1zM196 180h1v3h-1zM667 180h3v1h-3zM690 180h1v2h-1zM719 180h2v1h-2zM99 181h1v2h-1zM108 181h1v1h-1zM154 181h2v1h-2zM670 181h3v1h-3zM721 181h2v1h-2zM109 182h1v1h-1zM115 182h3v1h-3zM153 182h1v1h-1zM237 182h1v2h-1zM673 182h1v1h-1zM689 182h1v1h-1zM723 182h2v1h-2zM98 183h1v1h-1zM110 183h2v1h-2zM113 183h2v1h-2zM118 183h12v1h-12zM152 183h1v1h-1zM197 183h1v3h-1zM674 183h2v1h-2zM683 183h6v1h-6zM725 183h1v1h-1zM97 184h1v2h-1zM112 184h1v1h-1zM130 184h3v1h-3zM150 184h2v1h-2zM236 184h1v3h-1zM676 184h2v1h-2zM681 184h2v1h-2zM726 184h2v1h-2zM133 185h1v1h-1zM149 185h1v1h-1zM678 185h3v1h-3zM728 185h1v2h-1zM94 186h3v1h-3zM134 186h2v1h-2zM147 186h2v1h-2zM198 186h1v3h-1zM92 187h2v1h-2zM136 187h1v1h-1zM145 187h2v1h-2zM235 187h1v3h-1zM729 187h1v2h-1zM92 188h1v1h-1zM137 188h2v1h-2zM142 188h3v1h-3zM91 189h1v2h-1zM139 189h3v1h-3zM199 189h1v3h-1zM730 189h1v3h-1zM234 190h1v3h-1zM90 191h1v2h-1zM200 192h1v3h-1zM731 192h1v2h-1zM89 193h1v2h-1zM233 193h1v3h-1zM732 194h1v2h-1zM88 195h1v2h-1zM201 195h1v3h-1zM232 196h1v3h-1zM733 196h1v1h-1zM87 197h1v2h-1zM734 197h1v1h-1zM202 198h1v3h-1zM735 198h1v1h-1zM86 199h1v3h-1zM231 199h1v4h-1zM736 199h1v1h-1zM2 200h3v1h-3zM737 200h2v1h-2zM0 201h2v1h-2zM5 201h2v1h-2zM203 201h1v3h-1zM739 201h2v1h-2zM7 202h2v1h-2zM85 202h1v2h-1zM741 202h2v1h-2zM9 203h2v1h-2zM230 203h1v3h-1zM743 203h2v1h-2zM11 204h2v1h-2zM84 204h1v2h-1zM204 204h1v2h-1zM745 204h2v1h-2zM750 204h3v1h-3zM13 205h1v1h-1zM747 205h3v1h-3zM753 205h2v1h-2zM14 206h1v2h-1zM82 206h2v1h-2zM205 206h1v2h-1zM229 206h1v4h-1zM755 206h2v1h-2zM81 207h1v1h-1zM757 207h1v1h-1zM15 208h1v1h-1zM80 208h1v1h-1zM206 208h1v1h-1zM758 208h2v1h-2zM16 209h1v1h-1zM79 209h1v2h-1zM207 209h1v2h-1zM760 209h1v1h-1zM17 210h1v2h-1zM228 210h1v1h-1zM761 210h1v1h-1zM78 211h1v2h-1zM208 211h1v1h-1zM227 211h2v1h-2zM762 211h1v1h-1zM18 212h1v2h-1zM209 212h1v2h-1zM225 212h2v1h-2zM763 212h1v1h-1zM77 213h1v2h-1zM224 213h1v1h-1zM764 213h1v1h-1zM19 214h1v2h-1zM210 214h1v2h-1zM223 214h1v2h-1zM765 214h2v1h-2zM76 215h1v2h-1zM767 215h3v1h-3zM20 216h1v1h-1zM211 216h1v2h-1zM222 216h1v1h-1zM770 216h3v1h-3zM21 217h1v2h-1zM75 217h1v2h-1zM221 217h1v2h-1zM773 217h1v1h-1zM212 218h1v1h-1zM774 218h2v1h-2zM22 219h1v2h-1zM74 219h1v3h-1zM213 219h1v1h-1zM219 219h2v1h-2zM776 219h1v1h-1zM214 220h2v1h-2zM217 220h2v1h-2zM777 220h1v1h-1zM23 221h1v2h-1zM216 221h1v1h-1zM778 221h1v2h-1zM73 222h1v2h-1zM24 223h1v2h-1zM779 223h1v1h-1zM72 224h1v3h-1zM780 224h1v1h-1zM25 225h1v2h-1zM781 225h1v1h-1zM782 226h1v1h-1zM26 227h1v2h-1zM71 227h1v2h-1zM783 227h1v1h-1zM784 228h1v1h-1zM27 229h1v2h-1zM70 229h1v2h-1zM785 229h1v1h-1zM786 230h2v1h-2zM28 231h1v1h-1zM69 231h1v2h-1zM788 231h2v1h-2zM29 232h1v2h-1zM790 232h8v1h-8zM68 233h1v2h-1zM798 233h3v1h-3zM30 234h1v2h-1zM801 234h1v1h-1zM67 235h1v2h-1zM802 235h2v1h-2zM31 236h1v2h-1zM804 236h1v1h-1zM66 237h1v2h-1zM805 237h1v1h-1zM32 238h1v2h-1zM806 238h1v2h-1zM65 239h1v2h-1zM33 240h1v1h-1zM807 240h1v1h-1zM34 241h1v1h-1zM64 241h1v3h-1zM808 241h1v1h-1zM35 242h1v1h-1zM809 242h1v2h-1zM36 243h1v1h-1zM37 244h1v1h-1zM63 244h1v2h-1zM810 244h1v2h-1zM38 245h1v2h-1zM62 246h1v2h-1zM811 246h1v2h-1zM39 247h1v1h-1zM40 248h1v1h-1zM61 248h1v2h-1zM812 248h1v2h-1zM41 249h1v2h-1zM60 250h1v2h-1zM813 250h1v2h-1zM42 251h1v1h-1zM43 252h1v2h-1zM59 252h1v1h-1zM814 252h1v2h-1zM58 253h1v2h-1zM44 254h1v1h-1zM815 254h1v2h-1zM45 255h1v1h-1zM57 255h1v1h-1zM46 256h2v1h-2zM55 256h2v1h-2zM816 256h1v1h-1zM48 257h2v1h-2zM53 257h2v1h-2zM817 257h1v2h-1zM50 258h3v1h-3zM818 259h1v1h-1zM819 260h1v2h-1zM820 262h1v1h-1zM821 263h1v2h-1zM822 265h1v2h-1zM823 267h1v2h-1zM824 269h1v1h-1zM825 270h1v2h-1zM826 272h1v2h-1zM827 274h1v2h-1zM828 276h2v1h-2zM830 277h3v1h-3zM833 278h1v1h-1zM834 279h2v1h-2zM847 279h2v1h-2zM836 280h2v1h-2zM845 280h2v1h-2zM849 280h2v1h-2zM838 281h7v1h-7zM851 281h3v1h-3zM858 281h7v1h-7zM854 282h4v1h-4zM865 282h1v2h-1zM866 284h1v1h-1zM867 285h1v2h-1zM868 287h1v1h-1zM869 288h1v2h-1zM918 288h3v1h-3zM916 289h2v1h-2zM921 289h1v2h-1zM870 290h1v2h-1zM915 290h1v1h-1zM914 291h1v1h-1zM922 291h1v1h-1zM871 292h1v2h-1zM913 292h1v1h-1zM923 292h1v2h-1zM912 293h1v1h-1zM872 294h1v2h-1zM910 294h2v1h-2zM924 294h1v2h-1zM909 295h1v1h-1zM873 296h1v3h-1zM908 296h1v1h-1zM925 296h1v3h-1zM907 297h1v2h-1zM874 299h1v2h-1zM906 299h1v2h-1zM926 299h1v3h-1zM875 301h1v3h-1zM905 301h1v2h-1zM927 302h1v3h-1zM904 303h1v2h-1zM876 304h1v3h-1zM903 305h1v2h-1zM928 305h1v3h-1zM877 307h1v2h-1zM902 307h1v2h-1zM929 308h1v2h-1zM878 309h1v2h-1zM901 309h1v2h-1zM930 310h1v2h-1zM879 311h1v2h-1zM900 311h1v2h-1zM931 312h1v2h-1zM880 313h1v3h-1zM899 313h1v2h-1zM932 314h1v2h-1zM898 315h1v1h-1zM881 316h1v2h-1zM897 316h1v2h-1zM933 316h1v2h-1zM882 318h1v2h-1zM896 318h1v1h-1zM934 318h1v2h-1zM895 319h1v1h-1zM883 320h1v2h-1zM894 320h1v1h-1zM935 320h1v2h-1zM893 321h1v1h-1zM884 322h1v2h-1zM892 322h1v1h-1zM936 322h1v3h-1zM891 323h1v1h-1zM885 324h1v1h-1zM890 324h1v1h-1zM886 325h2v1h-2zM889 325h1v1h-1zM937 325h1v4h-1zM888 326h1v1h-1zM938 329h1v3h-1zM939 332h1v4h-1zM940 336h1v2h-1zM941 338h1v2h-1zM942 340h1v1h-1zM943 341h1v2h-1zM944 343h1v1h-1zM945 344h2v1h-2zM947 345h2v1h-2zM949 346h1v1h-1zM950 347h2v1h-2zM952 348h1v1h-1zM953 349h1v2h-1zM954 351h1v2h-1zM955 353h1v2h-1zM956 355h1v2h-1zM957 357h1v1h-1zM976 357h5v1h-5zM958 358h1v1h-1zM966 358h3v1h-3zM975 358h1v1h-1zM981 358h1v2h-1zM959 359h1v1h-1zM962 359h4v1h-4zM969 359h1v1h-1zM974 359h1v2h-1zM960 360h2v1h-2zM970 360h1v1h-1zM982 360h1v1h-1zM971 361h1v1h-1zM973 361h1v1h-1zM983 361h1v2h-1zM972 362h1v1h-1zM984 363h1v2h-1zM1028 364h1v1h-1zM985 365h1v2h-1zM1027 365h1v1h-1zM1029 365h2v1h-2zM1026 366h1v1h-1zM1031 366h2v1h-2zM986 367h1v2h-1zM1025 367h1v1h-1zM1033 367h2v1h-2zM1024 368h1v1h-1zM1035 368h2v1h-2zM987 369h1v2h-1zM1023 369h1v2h-1zM1037 369h1v2h-1zM988 371h1v2h-1zM1022 371h1v1h-1zM1038 371h1v1h-1zM1021 372h1v2h-1zM1039 372h1v2h-1zM989 373h1v2h-1zM1020 374h1v2h-1zM1040 374h1v2h-1zM990 375h1v1h-1zM991 376h1v2h-1zM1019 376h1v2h-1zM1041 376h1v2h-1zM992 378h1v2h-1zM1018 378h1v2h-1zM1042 378h1v3h-1zM993 380h1v2h-1zM1017 380h1v2h-1zM1043 381h1v2h-1zM994 382h1v3h-1zM1016 382h1v2h-1zM1044 383h1v3h-1zM1015 384h1v2h-1zM995 385h1v2h-1zM1014 386h1v2h-1zM1045 386h1v3h-1zM996 387h1v2h-1zM1013 388h1v2h-1zM997 389h1v1h-1zM1046 389h1v2h-1zM998 390h2v1h-2zM1012 390h1v1h-1zM1000 391h1v1h-1zM1011 391h1v2h-1zM1047 391h1v3h-1zM1001 392h1v1h-1zM1002 393h2v1h-2zM1010 393h1v1h-1zM1004 394h1v1h-1zM1009 394h1v2h-1zM1048 394h1v3h-1zM1005 395h2v1h-2zM1007 396h2v1h-2zM1049 397h1v3h-1zM1050 400h1v4h-1zM1051 404h1v3h-1zM1052 407h1v3h-1zM1053 410h1v4h-1zM1054 414h1v3h-1zM1055 417h1v4h-1zM1056 421h1v2h-1zM1057 423h1v2h-1zM1058 425h1v1h-1zM1059 426h1v2h-1zM1076 426h1v1h-1zM1075 427h1v1h-1zM1077 427h1v1h-1zM1060 428h1v1h-1zM1074 428h1v1h-1zM1078 428h1v1h-1zM1061 429h1v1h-1zM1073 429h1v1h-1zM1079 429h1v1h-1zM1062 430h1v2h-1zM1070 430h3v1h-3zM1080 430h1v1h-1zM1067 431h3v1h-3zM1081 431h1v1h-1zM1063 432h1v1h-1zM1065 432h2v1h-2zM1082 432h1v1h-1zM1064 433h1v1h-1zM1083 433h1v1h-1zM1084 434h1v2h-1zM1085 436h1v2h-1zM1086 438h1v2h-1zM1087 440h1v2h-1zM1088 442h1v2h-1zM1089 444h1v2h-1zM1090 446h1v1h-1zM1091 447h1v2h-1zM1092 449h1v1h-1zM1093 450h1v1h-1zM1123 450h2v1h-2zM1094 451h1v1h-1zM1121 451h2v1h-2zM1125 451h2v1h-2zM1095 452h1v1h-1zM1118 452h3v1h-3zM1127 452h3v1h-3zM1096 453h1v1h-1zM1112 453h6v1h-6zM1130 453h3v1h-3zM1097 454h1v1h-1zM1111 454h1v1h-1zM1133 454h2v1h-2zM1098 455h1v2h-1zM1110 455h1v1h-1zM1135 455h3v1h-3zM1109 456h1v1h-1zM1138 456h3v1h-3zM1099 457h1v1h-1zM1108 457h1v1h-1zM1141 457h1v1h-1zM1100 458h1v1h-1zM1107 458h1v1h-1zM1142 458h1v2h-1zM1101 459h1v1h-1zM1106 459h1v1h-1zM1102 460h2v1h-2zM1105 460h1v1h-1zM1143 460h1v1h-1zM1104 461h1v1h-1zM1144 461h1v1h-1zM1145 462h1v2h-1zM1146 464h1v2h-1zM1147 466h1v2h-1zM1148 468h1v3h-1zM1149 471h1v2h-1zM1150 473h1v2h-1zM1151 475h1v2h-1zM1152 477h1v2h-1zM1182 477h3v1h-3zM1179 478h3v1h-3zM1185 478h1v1h-1zM1153 479h1v1h-1zM1177 479h2v1h-2zM1186 479h1v2h-1zM1154 480h1v2h-1zM1175 480h2v1h-2zM1211 480h3v1h-3zM1173 481h2v1h-2zM1187 481h1v1h-1zM1209 481h2v1h-2zM1214 481h4v1h-4zM1155 482h1v1h-1zM1172 482h1v1h-1zM1188 482h1v1h-1zM1208 482h1v1h-1zM1218 482h7v1h-7zM1156 483h1v1h-1zM1171 483h1v1h-1zM1189 483h2v1h-2zM1207 483h1v1h-1zM1225 483h2v1h-2zM1157 484h1v1h-1zM1170 484h1v1h-1zM1191 484h2v1h-2zM1206 484h1v1h-1zM1227 484h2v1h-2zM1158 485h1v2h-1zM1169 485h1v1h-1zM1193 485h2v1h-2zM1205 485h1v1h-1zM1229 485h1v1h-1zM1168 486h1v1h-1zM1195 486h3v1h-3zM1202 486h3v1h-3zM1230 486h1v1h-1zM1159 487h1v1h-1zM1166 487h2v1h-2zM1198 487h4v1h-4zM1231 487h1v1h-1zM1160 488h2v1h-2zM1165 488h1v1h-1zM1232 488h1v1h-1zM1162 489h3v1h-3zM1233 489h2v1h-2zM1235 490h2v1h-2zM1237 491h1v1h-1zM1238 492h2v1h-2zM1240 493h1v1h-1zM1241 494h1v1h-1zM1242 495h1v1h-1zM1243 496h1v1h-1zM1244 497h1v2h-1zM1245 499h1v2h-1zM1246 501h1v2h-1zM1247 503h1v2h-1zM1248 505h1v2h-1zM1249 507h1v2h-1zM1250 509h1v2h-1zM1251 511h1v2h-1zM1252 513h1v1h-1z" fill="#ffa500" shape-rendering="crispEdges"/>
<g shape-rendering="crispEdges">
<rect x="0" y="110" width="1577" height="2" fill="#ff0000"/>
<rect x="1578" y="105" width="41" height="11" fill="#ff0000"/>
<rect x="0" y="175" width="1577" height="2" fill="#ff0000"/>
<rect x="1578" y="170" width="41" height="11" fill="#ff0000"/>
<rect x="0" y="247" width="1577" height="2" fill="#ff0000"/>
<rect x="1578" y="242" width="41" height="11" fill="#ff0000"/>
<rect x="0" y="329" width="1577" height="2" fill="#ff0000"/>
<rect x="1578" y="324" width="41" height="11" fill="#ff0000"/>
<rect x="0" y="416" width="1577" height="2" fill="#00ff00"/>
<rect x="1578" y="411" width="41" height="11" fill="#00ff00"/>
<rect x="0" y="479" width="1577" height="2" fill="#0000ff"/>
<rect x="1578" y="474" width="41" height="11" fill="#0000ff"/>
<rect x="1578" y="527" width="41" height="11" fill="#000"/>
</g>
<text x="1582" y="114" font-size="10" fill="#fff" textLength="32.5" lengthAdjust="spacingAndGlyphs">7.10011</text>
<text x="1582" y="179" font-size="10" fill="#fff" textLength="32.5" lengthAdjust="spacingAndGlyphs">7.00029</text>
<text x="1582" y="251" font-size="10" fill="#fff" textLength="32.5" lengthAdjust="spacingAndGlyphs">6.88897</text>
<text x="1582" y="333" font-size="10" fill="#fff" textLength="32.5" lengthAdjust="spacingAndGlyphs">6.76157</text>
<text x="1582" y="420" font-size="10" fill="#fff" textLength="32.5" lengthAdjust="spacingAndGlyphs">6.62646</text>
<text x="1582" y="483" font-size="10" fill="#fff" textLength="32.5" lengthAdjust="spacingAndGlyphs">6.52865</text>
<text x="1582" y="536" font-size="10" fill="#fff" textLength="32.5" lengthAdjust="spacingAndGlyphs">6.44774</text>
<path d="M1255 25h9l-4.5 5z" fill="#c0c0c0"/>
<path d="M3 31h7l-3.5 4z" fill="#000"/>
<text x="15" y="36" font-size="10" fill="#000" textLength="66" lengthAdjust="spacingAndGlyphs" stroke="#000" stroke-width="0.2">USDCNH,Daily</text>
<text x="87" y="36" font-size="10" fill="#000" textLength="140.5" lengthAdjust="spacingAndGlyphs" stroke="#000" stroke-width="0.2">6.45054 6.46434 6.44259 6.44774</text>
<g shape-rendering="crispEdges">
<line x1="1" y1="583.5" x2="1576" y2="583.5" stroke="#c0c0c0" stroke-width="1" stroke-dasharray="3,3"/>
<line x1="1" y1="620.5" x2="1576" y2="620.5" stroke="#c0c0c0" stroke-width="1" stroke-dasharray="3,3"/>
<rect x="1577" y="555" width="1" height="1" fill="#000"/>
<rect x="1577" y="648" width="1" height="1" fill="#000"/>
</g>
<path d="M256 581h1v1h-1zM255 582h1v2h-1zM257 582h1v1h-1zM258 583h2v1h-2zM254 584h1v1h-1zM260 584h5v1h-5zM492 584h1v2h-1zM253 585h1v2h-1zM265 585h2v1h-2zM100 586h1v1h-1zM267 586h2v1h-2zM491 586h1v2h-1zM493 586h1v2h-1zM99 587h1v1h-1zM101 587h1v2h-1zM160 587h1v1h-1zM252 587h1v1h-1zM269 587h1v2h-1zM88 588h2v1h-2zM98 588h1v1h-1zM159 588h1v2h-1zM161 588h2v1h-2zM251 588h1v2h-1zM276 588h1v1h-1zM490 588h1v2h-1zM494 588h1v3h-1zM76 589h1v1h-1zM87 589h1v2h-1zM90 589h4v1h-4zM97 589h1v1h-1zM102 589h1v2h-1zM163 589h10v1h-10zM232 589h1v1h-1zM270 589h1v2h-1zM275 589h1v2h-1zM277 589h1v2h-1zM76 590h2v1h-2zM94 590h3v1h-3zM158 590h1v2h-1zM173 590h1v1h-1zM232 590h2v1h-2zM250 590h1v1h-1zM404 590h5v1h-5zM489 590h1v2h-1zM75 591h1v3h-1zM78 591h1v1h-1zM86 591h1v2h-1zM103 591h1v2h-1zM174 591h1v2h-1zM232 591h1v1h-1zM234 591h2v1h-2zM249 591h1v2h-1zM271 591h1v2h-1zM274 591h1v1h-1zM278 591h1v2h-1zM404 591h1v1h-1zM409 591h2v1h-2zM476 591h2v1h-2zM495 591h1v2h-1zM79 592h1v1h-1zM116 592h5v1h-5zM157 592h1v2h-1zM179 592h2v1h-2zM231 592h1v4h-1zM236 592h5v1h-5zM273 592h1v1h-1zM403 592h1v3h-1zM411 592h2v1h-2zM475 592h1v1h-1zM478 592h8v1h-8zM488 592h1v1h-1zM80 593h1v1h-1zM85 593h1v2h-1zM104 593h1v2h-1zM115 593h1v2h-1zM121 593h1v1h-1zM175 593h1v1h-1zM177 593h2v1h-2zM181 593h1v2h-1zM241 593h1v2h-1zM248 593h1v1h-1zM272 593h2v1h-2zM279 593h1v2h-1zM292 593h1v1h-1zM413 593h1v1h-1zM419 593h2v1h-2zM452 593h2v1h-2zM474 593h1v2h-1zM486 593h3v1h-3zM496 593h1v1h-1zM498 593h3v1h-3zM74 594h1v3h-1zM81 594h2v1h-2zM122 594h1v2h-1zM154 594h3v1h-3zM176 594h1v1h-1zM247 594h1v2h-1zM272 594h1v1h-1zM283 594h2v1h-2zM290 594h2v1h-2zM293 594h1v1h-1zM414 594h2v1h-2zM417 594h2v1h-2zM421 594h1v2h-1zM450 594h2v1h-2zM454 594h3v1h-3zM496 594h2v1h-2zM501 594h2v1h-2zM83 595h2v1h-2zM105 595h1v1h-1zM114 595h1v1h-1zM152 595h2v1h-2zM182 595h1v2h-1zM242 595h1v2h-1zM280 595h3v1h-3zM285 595h2v1h-2zM289 595h1v1h-1zM294 595h1v2h-1zM300 595h1v1h-1zM308 595h2v1h-2zM368 595h1v1h-1zM402 595h1v4h-1zM416 595h1v1h-1zM449 595h1v1h-1zM457 595h1v1h-1zM473 595h1v1h-1zM503 595h2v1h-2zM106 596h1v2h-1zM113 596h1v2h-1zM123 596h1v1h-1zM139 596h3v1h-3zM151 596h1v1h-1zM230 596h1v4h-1zM246 596h1v1h-1zM280 596h1v1h-1zM287 596h2v1h-2zM298 596h2v1h-2zM301 596h1v1h-1zM306 596h2v1h-2zM310 596h4v1h-4zM367 596h1v1h-1zM369 596h1v1h-1zM422 596h1v2h-1zM447 596h2v1h-2zM458 596h2v1h-2zM472 596h1v1h-1zM505 596h1v1h-1zM73 597h1v3h-1zM124 597h1v1h-1zM137 597h2v1h-2zM142 597h3v1h-3zM150 597h1v1h-1zM183 597h1v2h-1zM243 597h1v2h-1zM245 597h1v2h-1zM295 597h1v1h-1zM297 597h1v1h-1zM302 597h2v1h-2zM305 597h1v1h-1zM314 597h3v1h-3zM366 597h1v1h-1zM370 597h2v1h-2zM380 597h2v1h-2zM445 597h2v1h-2zM460 597h1v1h-1zM471 597h1v1h-1zM506 597h1v2h-1zM107 598h1v1h-1zM110 598h3v1h-3zM125 598h1v1h-1zM135 598h2v1h-2zM145 598h2v1h-2zM149 598h1v1h-1zM296 598h1v1h-1zM304 598h1v1h-1zM317 598h1v2h-1zM365 598h1v1h-1zM372 598h1v1h-1zM378 598h2v1h-2zM382 598h7v1h-7zM423 598h1v2h-1zM436 598h1v1h-1zM444 598h1v1h-1zM461 598h1v1h-1zM470 598h1v2h-1zM64 599h1v1h-1zM108 599h2v1h-2zM126 599h1v2h-1zM133 599h2v1h-2zM147 599h2v1h-2zM184 599h1v1h-1zM244 599h1v1h-1zM350 599h4v1h-4zM362 599h3v1h-3zM373 599h2v1h-2zM377 599h1v1h-1zM389 599h2v1h-2zM401 599h1v3h-1zM434 599h2v1h-2zM437 599h1v1h-1zM442 599h2v1h-2zM462 599h2v1h-2zM507 599h1v1h-1zM64 600h3v1h-3zM72 600h1v1h-1zM131 600h2v1h-2zM185 600h1v1h-1zM229 600h1v4h-1zM318 600h1v2h-1zM348 600h2v1h-2zM354 600h8v1h-8zM375 600h2v1h-2zM391 600h3v1h-3zM424 600h1v2h-1zM433 600h1v1h-1zM438 600h2v1h-2zM441 600h1v1h-1zM464 600h2v1h-2zM469 600h1v1h-1zM508 600h1v1h-1zM692 600h1v1h-1zM904 600h2v1h-2zM1020 600h1v1h-1zM63 601h1v2h-1zM67 601h6v1h-6zM127 601h1v1h-1zM129 601h2v1h-2zM186 601h1v2h-1zM324 601h1v1h-1zM347 601h1v1h-1zM394 601h3v1h-3zM431 601h2v1h-2zM440 601h1v1h-1zM466 601h3v1h-3zM509 601h1v1h-1zM692 601h2v1h-2zM903 601h1v1h-1zM906 601h3v1h-3zM1019 601h1v1h-1zM1021 601h2v1h-2zM128 602h1v1h-1zM319 602h1v2h-1zM322 602h2v1h-2zM325 602h1v1h-1zM346 602h1v2h-1zM397 602h2v1h-2zM400 602h1v1h-1zM425 602h2v1h-2zM429 602h2v1h-2zM510 602h1v2h-1zM592 602h9v1h-9zM691 602h1v2h-1zM694 602h2v1h-2zM902 602h1v2h-1zM909 602h2v1h-2zM1018 602h1v2h-1zM1023 602h2v1h-2zM62 603h1v2h-1zM187 603h1v1h-1zM321 603h1v1h-1zM326 603h2v1h-2zM339 603h2v1h-2zM399 603h2v1h-2zM427 603h2v1h-2zM591 603h1v1h-1zM601 603h2v1h-2zM696 603h1v1h-1zM712 603h1v1h-1zM911 603h2v1h-2zM920 603h1v1h-1zM1025 603h1v1h-1zM1207 603h2v1h-2zM188 604h2v1h-2zM224 604h2v1h-2zM228 604h1v1h-1zM320 604h1v1h-1zM328 604h2v1h-2zM337 604h2v1h-2zM341 604h2v1h-2zM345 604h1v1h-1zM511 604h1v1h-1zM514 604h7v1h-7zM590 604h1v1h-1zM603 604h2v1h-2zM690 604h1v2h-1zM697 604h1v1h-1zM711 604h1v1h-1zM713 604h1v2h-1zM901 604h1v1h-1zM913 604h1v1h-1zM918 604h2v1h-2zM921 604h1v2h-1zM1017 604h1v1h-1zM1026 604h1v1h-1zM1205 604h2v1h-2zM1209 604h1v1h-1zM1224 604h1v1h-1zM61 605h1v2h-1zM190 605h3v1h-3zM223 605h1v1h-1zM226 605h3v1h-3zM330 605h7v1h-7zM343 605h2v1h-2zM512 605h2v1h-2zM520 605h1v1h-1zM558 605h4v1h-4zM566 605h3v1h-3zM589 605h1v1h-1zM605 605h1v1h-1zM698 605h1v1h-1zM710 605h1v1h-1zM900 605h1v2h-1zM914 605h2v1h-2zM917 605h1v1h-1zM1012 605h5v1h-5zM1027 605h1v1h-1zM1204 605h1v1h-1zM1210 605h1v1h-1zM1223 605h1v2h-1zM1225 605h1v1h-1zM193 606h1v2h-1zM222 606h1v1h-1zM521 606h1v2h-1zM550 606h8v1h-8zM562 606h4v1h-4zM569 606h2v1h-2zM588 606h1v1h-1zM606 606h1v1h-1zM615 606h2v1h-2zM623 606h2v1h-2zM689 606h1v2h-1zM699 606h1v1h-1zM709 606h1v1h-1zM714 606h1v2h-1zM916 606h1v1h-1zM922 606h1v2h-1zM1012 606h1v1h-1zM1028 606h2v1h-2zM1203 606h1v1h-1zM1211 606h1v1h-1zM1226 606h2v1h-2zM59 607h2v1h-2zM221 607h1v1h-1zM548 607h2v1h-2zM571 607h6v1h-6zM587 607h1v2h-1zM607 607h1v1h-1zM613 607h2v1h-2zM617 607h2v1h-2zM621 607h2v1h-2zM624 607h1v1h-1zM684 607h1v1h-1zM700 607h9v1h-9zM740 607h2v1h-2zM899 607h1v2h-1zM964 607h5v1h-5zM1011 607h1v2h-1zM1030 607h7v1h-7zM1202 607h1v2h-1zM1212 607h1v1h-1zM1222 607h1v1h-1zM1228 607h1v1h-1zM57 608h2v1h-2zM194 608h1v1h-1zM220 608h1v1h-1zM522 608h1v2h-1zM546 608h2v1h-2zM577 608h1v1h-1zM608 608h5v1h-5zM619 608h2v1h-2zM625 608h1v4h-1zM684 608h3v1h-3zM688 608h1v1h-1zM715 608h1v2h-1zM720 608h1v1h-1zM739 608h1v2h-1zM742 608h3v1h-3zM923 608h1v2h-1zM964 608h1v1h-1zM969 608h1v1h-1zM1037 608h1v1h-1zM1108 608h5v1h-5zM1131 608h2v1h-2zM1213 608h1v1h-1zM1221 608h1v2h-1zM1229 608h1v1h-1zM56 609h1v3h-1zM195 609h1v2h-1zM219 609h1v1h-1zM545 609h1v1h-1zM578 609h1v2h-1zM586 609h1v2h-1zM683 609h1v3h-1zM687 609h2v1h-2zM718 609h2v1h-2zM721 609h2v1h-2zM745 609h2v1h-2zM898 609h1v2h-1zM963 609h1v3h-1zM970 609h1v2h-1zM1010 609h1v2h-1zM1038 609h2v1h-2zM1108 609h1v1h-1zM1113 609h2v1h-2zM1129 609h2v1h-2zM1133 609h1v1h-1zM1168 609h2v1h-2zM1174 609h4v1h-4zM1201 609h1v1h-1zM1214 609h1v1h-1zM1230 609h1v2h-1zM218 610h1v2h-1zM523 610h1v2h-1zM536 610h1v1h-1zM544 610h1v1h-1zM716 610h2v1h-2zM723 610h6v1h-6zM738 610h1v1h-1zM747 610h2v1h-2zM760 610h1v1h-1zM892 610h1v1h-1zM924 610h1v1h-1zM975 610h2v1h-2zM1040 610h1v1h-1zM1107 610h1v2h-1zM1115 610h3v1h-3zM1122 610h7v1h-7zM1134 610h1v1h-1zM1167 610h1v1h-1zM1170 610h4v1h-4zM1178 610h3v1h-3zM1199 610h2v1h-2zM1215 610h1v1h-1zM1218 610h3v1h-3zM1243 610h2v1h-2zM196 611h1v1h-1zM535 611h1v1h-1zM537 611h1v1h-1zM543 611h1v1h-1zM579 611h1v1h-1zM585 611h1v2h-1zM716 611h1v1h-1zM728 611h1v1h-1zM737 611h1v2h-1zM749 611h1v1h-1zM759 611h1v1h-1zM761 611h2v1h-2zM766 611h3v1h-3zM791 611h2v1h-2zM892 611h2v1h-2zM897 611h1v2h-1zM925 611h1v2h-1zM971 611h1v1h-1zM973 611h2v1h-2zM977 611h1v1h-1zM1009 611h1v2h-1zM1041 611h1v1h-1zM1068 611h1v1h-1zM1118 611h4v1h-4zM1135 611h1v1h-1zM1166 611h1v2h-1zM1181 611h2v1h-2zM1197 611h2v1h-2zM1216 611h2v1h-2zM1231 611h1v1h-1zM1241 611h2v1h-2zM1244 611h1v1h-1zM4 612h1v1h-1zM55 612h1v4h-1zM197 612h1v1h-1zM208 612h2v1h-2zM217 612h1v1h-1zM524 612h1v1h-1zM534 612h1v2h-1zM538 612h1v1h-1zM542 612h1v1h-1zM580 612h2v1h-2zM626 612h1v3h-1zM656 612h1v1h-1zM682 612h1v2h-1zM729 612h1v2h-1zM750 612h2v1h-2zM758 612h1v2h-1zM763 612h3v1h-3zM769 612h2v1h-2zM789 612h2v1h-2zM793 612h1v1h-1zM891 612h1v2h-1zM894 612h1v1h-1zM952 612h1v1h-1zM962 612h1v3h-1zM972 612h1v1h-1zM978 612h2v1h-2zM1042 612h1v2h-1zM1060 612h1v1h-1zM1067 612h1v1h-1zM1069 612h2v1h-2zM1074 612h4v1h-4zM1106 612h1v2h-1zM1136 612h2v1h-2zM1183 612h2v1h-2zM1194 612h3v1h-3zM1232 612h1v1h-1zM1239 612h2v1h-2zM1245 612h1v3h-1zM3 613h1v1h-1zM5 613h1v2h-1zM198 613h1v1h-1zM207 613h1v2h-1zM210 613h7v1h-7zM524 613h5v1h-5zM539 613h1v1h-1zM541 613h1v1h-1zM582 613h3v1h-3zM655 613h1v1h-1zM657 613h1v1h-1zM736 613h1v1h-1zM752 613h1v1h-1zM771 613h2v1h-2zM788 613h1v1h-1zM794 613h2v1h-2zM895 613h2v1h-2zM926 613h1v2h-1zM932 613h2v1h-2zM950 613h2v1h-2zM953 613h1v2h-1zM980 613h5v1h-5zM1000 613h9v1h-9zM1060 613h2v1h-2zM1066 613h1v1h-1zM1071 613h3v1h-3zM1078 613h3v1h-3zM1096 613h1v1h-1zM1138 613h3v1h-3zM1165 613h1v1h-1zM1185 613h1v1h-1zM1192 613h2v1h-2zM1233 613h2v1h-2zM1237 613h2v1h-2zM2 614h1v1h-1zM199 614h1v1h-1zM529 614h2v1h-2zM533 614h1v1h-1zM540 614h1v1h-1zM644 614h5v1h-5zM654 614h1v1h-1zM658 614h1v2h-1zM667 614h3v1h-3zM681 614h1v3h-1zM730 614h1v2h-1zM735 614h1v2h-1zM753 614h2v1h-2zM757 614h1v1h-1zM773 614h1v1h-1zM787 614h1v1h-1zM796 614h1v1h-1zM848 614h1v1h-1zM860 614h1v1h-1zM890 614h1v2h-1zM896 614h1v1h-1zM931 614h1v1h-1zM934 614h3v1h-3zM944 614h2v1h-2zM949 614h1v1h-1zM985 614h2v1h-2zM999 614h1v2h-1zM1043 614h1v1h-1zM1059 614h1v2h-1zM1062 614h2v1h-2zM1065 614h1v1h-1zM1081 614h1v1h-1zM1095 614h1v1h-1zM1097 614h1v1h-1zM1105 614h1v2h-1zM1141 614h1v1h-1zM1164 614h1v1h-1zM1186 614h1v1h-1zM1190 614h2v1h-2zM1235 614h2v1h-2zM1 615h1v1h-1zM6 615h1v2h-1zM200 615h1v1h-1zM206 615h1v1h-1zM531 615h2v1h-2zM627 615h1v4h-1zM644 615h1v1h-1zM649 615h2v1h-2zM653 615h1v1h-1zM665 615h2v1h-2zM670 615h7v1h-7zM755 615h2v1h-2zM774 615h1v2h-1zM786 615h1v1h-1zM797 615h1v1h-1zM848 615h2v1h-2zM859 615h1v1h-1zM861 615h2v1h-2zM927 615h1v2h-1zM930 615h1v1h-1zM937 615h1v1h-1zM943 615h1v1h-1zM946 615h3v1h-3zM954 615h1v2h-1zM961 615h1v3h-1zM987 615h2v1h-2zM1044 615h1v1h-1zM1064 615h1v1h-1zM1082 615h1v1h-1zM1094 615h1v2h-1zM1098 615h2v1h-2zM1142 615h2v1h-2zM1163 615h1v1h-1zM1187 615h1v1h-1zM1189 615h1v1h-1zM1246 615h1v2h-1zM0 616h1v1h-1zM54 616h1v4h-1zM201 616h1v1h-1zM205 616h1v2h-1zM643 616h1v3h-1zM651 616h2v1h-2zM659 616h1v1h-1zM662 616h3v1h-3zM677 616h1v1h-1zM731 616h1v2h-1zM734 616h1v1h-1zM785 616h1v1h-1zM798 616h2v1h-2zM847 616h1v2h-1zM850 616h1v1h-1zM858 616h1v1h-1zM863 616h2v1h-2zM889 616h1v2h-1zM929 616h1v1h-1zM938 616h1v1h-1zM942 616h1v1h-1zM989 616h2v1h-2zM998 616h1v1h-1zM1045 616h1v1h-1zM1058 616h1v3h-1zM1083 616h1v1h-1zM1100 616h5v1h-5zM1144 616h1v1h-1zM1162 616h1v1h-1zM1188 616h1v1h-1zM7 617h1v2h-1zM202 617h2v1h-2zM660 617h2v1h-2zM678 617h3v1h-3zM733 617h1v1h-1zM775 617h1v1h-1zM778 617h7v1h-7zM800 617h1v1h-1zM851 617h1v1h-1zM857 617h1v1h-1zM865 617h1v1h-1zM928 617h1v1h-1zM939 617h1v1h-1zM941 617h1v1h-1zM955 617h1v2h-1zM991 617h2v1h-2zM997 617h1v2h-1zM1046 617h1v1h-1zM1084 617h1v1h-1zM1093 617h1v1h-1zM1145 617h1v1h-1zM1156 617h2v1h-2zM1161 617h1v1h-1zM1247 617h1v3h-1zM204 618h1v1h-1zM680 618h1v1h-1zM732 618h2v1h-2zM776 618h2v1h-2zM801 618h2v1h-2zM846 618h1v2h-1zM852 618h5v1h-5zM866 618h1v2h-1zM888 618h1v1h-1zM940 618h1v1h-1zM960 618h1v1h-1zM993 618h2v1h-2zM1047 618h1v1h-1zM1085 618h2v1h-2zM1090 618h3v1h-3zM1146 618h2v1h-2zM1154 618h2v1h-2zM1158 618h3v1h-3zM8 619h1v1h-1zM628 619h1v1h-1zM642 619h1v2h-1zM732 619h1v1h-1zM803 619h3v1h-3zM886 619h2v1h-2zM956 619h5v1h-5zM995 619h2v1h-2zM1048 619h1v1h-1zM1057 619h1v2h-1zM1087 619h3v1h-3zM1148 619h2v1h-2zM1153 619h1v1h-1zM8 620h5v1h-5zM53 620h1v4h-1zM628 620h5v1h-5zM806 620h3v1h-3zM832 620h2v1h-2zM845 620h1v2h-1zM867 620h1v1h-1zM885 620h1v1h-1zM1049 620h1v1h-1zM1150 620h3v1h-3zM1248 620h1v1h-1zM13 621h1v1h-1zM633 621h2v1h-2zM641 621h1v3h-1zM809 621h1v1h-1zM831 621h1v2h-1zM834 621h4v1h-4zM868 621h1v1h-1zM880 621h5v1h-5zM1050 621h2v1h-2zM1056 621h1v1h-1zM1248 621h5v1h-5zM14 622h1v1h-1zM635 622h2v1h-2zM810 622h2v1h-2zM838 622h4v1h-4zM844 622h1v1h-1zM869 622h1v1h-1zM880 622h1v1h-1zM1052 622h5v1h-5zM15 623h1v1h-1zM637 623h1v1h-1zM812 623h2v1h-2zM830 623h1v1h-1zM842 623h3v1h-3zM870 623h1v2h-1zM879 623h1v2h-1zM16 624h1v1h-1zM36 624h1v1h-1zM52 624h1v1h-1zM638 624h3v1h-3zM814 624h3v1h-3zM829 624h1v2h-1zM17 625h2v1h-2zM35 625h1v2h-1zM37 625h1v1h-1zM51 625h2v1h-2zM640 625h1v1h-1zM817 625h2v1h-2zM871 625h1v1h-1zM878 625h1v2h-1zM19 626h3v1h-3zM38 626h2v1h-2zM49 626h2v1h-2zM819 626h2v1h-2zM827 626h2v1h-2zM872 626h1v1h-1zM22 627h3v1h-3zM34 627h1v2h-1zM40 627h1v1h-1zM47 627h2v1h-2zM821 627h2v1h-2zM825 627h2v1h-2zM873 627h1v1h-1zM877 627h1v2h-1zM25 628h1v1h-1zM41 628h2v1h-2zM45 628h2v1h-2zM823 628h2v1h-2zM874 628h2v1h-2zM26 629h2v1h-2zM33 629h1v2h-1zM43 629h2v1h-2zM876 629h1v1h-1zM28 630h2v1h-2zM30 631h3v1h-3z" fill="#1e90ff" shape-rendering="crispEdges"/>
<text x="4" y="566" font-size="10" fill="#000" textLength="68" lengthAdjust="spacingAndGlyphs" stroke="#000" stroke-width="0.2">RSI(14) 26.7325</text>
<text x="1580" y="564" font-size="10" fill="#000" textLength="14.5" lengthAdjust="spacingAndGlyphs" stroke="#000" stroke-width="0.2">100</text>
<text x="1579.5" y="587" font-size="10" fill="#000" textLength="10" lengthAdjust="spacingAndGlyphs" stroke="#000" stroke-width="0.2">70</text>
<text x="1579.5" y="624" font-size="10" fill="#000" textLength="10" lengthAdjust="spacingAndGlyphs" stroke="#000" stroke-width="0.2">30</text>
<text x="1579.5" y="646" font-size="10" fill="#000" textLength="5" lengthAdjust="spacingAndGlyphs" stroke="#000" stroke-width="0.2">0</text>
<g shape-rendering="crispEdges">
<rect x="0" y="700.4" width="1" height="17.1953" fill="#c0c0c0"/>
<rect x="4" y="700.4" width="1" height="16.6779" fill="#c0c0c0"/>
<rect x="8" y="700.4" width="1" height="18.4393" fill="#c0c0c0"/>
<rect x="12" y="700.4" width="1" height="19.6092" fill="#c0c0c0"/>
<rect x="16" y="700.4" width="1" height="21.9659" fill="#c0c0c0"/>
<rect x="20" y="700.4" width="1" height="24.8098" fill="#c0c0c0"/>
<rect x="24" y="700.4" width="1" height="26.8938" fill="#c0c0c0"/>
<rect x="28" y="700.4" width="1" height="30.2996" fill="#c0c0c0"/>
<rect x="32" y="700.4" width="1" height="33.0386" fill="#c0c0c0"/>
<rect x="36" y="700.4" width="1" height="33.6989" fill="#c0c0c0"/>
<rect x="40" y="700.4" width="1" height="35.6345" fill="#c0c0c0"/>
<rect x="44" y="700.4" width="1" height="37.7153" fill="#c0c0c0"/>
<rect x="48" y="700.4" width="1" height="38.6385" fill="#c0c0c0"/>
<rect x="52" y="700.4" width="1" height="38.5056" fill="#c0c0c0"/>
<rect x="56" y="700.4" width="1" height="34.6354" fill="#c0c0c0"/>
<rect x="60" y="700.4" width="1" height="30.7926" fill="#c0c0c0"/>
<rect x="64" y="700.4" width="1" height="25.0741" fill="#c0c0c0"/>
<rect x="68" y="700.4" width="1" height="21.0013" fill="#c0c0c0"/>
<rect x="72" y="700.4" width="1" height="17.4323" fill="#c0c0c0"/>
<rect x="76" y="700.4" width="1" height="9.72385" fill="#c0c0c0"/>
<rect x="80" y="700.4" width="1" height="4.96" fill="#c0c0c0"/>
<rect x="84" y="700.4" width="1" height="1.72566" fill="#c0c0c0"/>
<rect x="88" y="696.106" width="1" height="4.29393" fill="#c0c0c0"/>
<rect x="92" y="691.855" width="1" height="8.54529" fill="#c0c0c0"/>
<rect x="96" y="688.899" width="1" height="11.5015" fill="#c0c0c0"/>
<rect x="100" y="684.773" width="1" height="15.6274" fill="#c0c0c0"/>
<rect x="104" y="684.214" width="1" height="16.1864" fill="#c0c0c0"/>
<rect x="108" y="685.762" width="1" height="14.6377" fill="#c0c0c0"/>
<rect x="112" y="686.449" width="1" height="13.9507" fill="#c0c0c0"/>
<rect x="116" y="684.374" width="1" height="16.0261" fill="#c0c0c0"/>
<rect x="120" y="682.792" width="1" height="17.6082" fill="#c0c0c0"/>
<rect x="124" y="683.555" width="1" height="16.8448" fill="#c0c0c0"/>
<rect x="128" y="686.286" width="1" height="14.1138" fill="#c0c0c0"/>
<rect x="132" y="687.894" width="1" height="12.5065" fill="#c0c0c0"/>
<rect x="136" y="688.602" width="1" height="11.7979" fill="#c0c0c0"/>
<rect x="140" y="688.183" width="1" height="12.2173" fill="#c0c0c0"/>
<rect x="144" y="688.271" width="1" height="12.1294" fill="#c0c0c0"/>
<rect x="148" y="689.309" width="1" height="11.0905" fill="#c0c0c0"/>
<rect x="152" y="688.586" width="1" height="11.8138" fill="#c0c0c0"/>
<rect x="156" y="687.6" width="1" height="12.8004" fill="#c0c0c0"/>
<rect x="160" y="683.784" width="1" height="16.6161" fill="#c0c0c0"/>
<rect x="164" y="681.677" width="1" height="18.7231" fill="#c0c0c0"/>
<rect x="168" y="680.239" width="1" height="20.1605" fill="#c0c0c0"/>
<rect x="172" y="679.343" width="1" height="21.0569" fill="#c0c0c0"/>
<rect x="176" y="680.128" width="1" height="20.2716" fill="#c0c0c0"/>
<rect x="180" y="680.282" width="1" height="20.1184" fill="#c0c0c0"/>
<rect x="184" y="682.71" width="1" height="17.6896" fill="#c0c0c0"/>
<rect x="188" y="686.478" width="1" height="13.9215" fill="#c0c0c0"/>
<rect x="192" y="690.005" width="1" height="10.3947" fill="#c0c0c0"/>
<rect x="196" y="694.966" width="1" height="5.43358" fill="#c0c0c0"/>
<rect x="200" y="700.4" width="1" height="1" fill="#c0c0c0"/>
<rect x="204" y="700.4" width="1" height="6.97477" fill="#c0c0c0"/>
<rect x="208" y="700.4" width="1" height="10.0916" fill="#c0c0c0"/>
<rect x="212" y="700.4" width="1" height="12.8344" fill="#c0c0c0"/>
<rect x="216" y="700.4" width="1" height="14.8371" fill="#c0c0c0"/>
<rect x="220" y="700.4" width="1" height="14.8507" fill="#c0c0c0"/>
<rect x="224" y="700.4" width="1" height="13.3058" fill="#c0c0c0"/>
<rect x="228" y="700.4" width="1" height="12.4982" fill="#c0c0c0"/>
<rect x="232" y="700.4" width="1" height="4.37546" fill="#c0c0c0"/>
<rect x="236" y="699.609" width="1" height="1" fill="#c0c0c0"/>
<rect x="240" y="695.294" width="1" height="5.1065" fill="#c0c0c0"/>
<rect x="244" y="694.743" width="1" height="5.65692" fill="#c0c0c0"/>
<rect x="248" y="691.465" width="1" height="8.93505" fill="#c0c0c0"/>
<rect x="252" y="684.562" width="1" height="15.8379" fill="#c0c0c0"/>
<rect x="256" y="673.234" width="1" height="27.1656" fill="#c0c0c0"/>
<rect x="260" y="666.333" width="1" height="34.0674" fill="#c0c0c0"/>
<rect x="264" y="661.036" width="1" height="39.3638" fill="#c0c0c0"/>
<rect x="268" y="658.028" width="1" height="42.3716" fill="#c0c0c0"/>
<rect x="272" y="660.036" width="1" height="40.3635" fill="#c0c0c0"/>
<rect x="276" y="657.356" width="1" height="43.0439" fill="#c0c0c0"/>
<rect x="280" y="660.183" width="1" height="40.217" fill="#c0c0c0"/>
<rect x="284" y="660.915" width="1" height="39.4848" fill="#c0c0c0"/>
<rect x="288" y="663.603" width="1" height="36.7975" fill="#c0c0c0"/>
<rect x="292" y="663.216" width="1" height="37.1841" fill="#c0c0c0"/>
<rect x="296" y="666.525" width="1" height="33.8746" fill="#c0c0c0"/>
<rect x="300" y="667.148" width="1" height="33.2525" fill="#c0c0c0"/>
<rect x="304" y="670.093" width="1" height="30.3066" fill="#c0c0c0"/>
<rect x="308" y="670.251" width="1" height="30.1486" fill="#c0c0c0"/>
<rect x="312" y="671.412" width="1" height="28.9881" fill="#c0c0c0"/>
<rect x="316" y="673.067" width="1" height="27.3326" fill="#c0c0c0"/>
<rect x="320" y="678.835" width="1" height="21.565" fill="#c0c0c0"/>
<rect x="324" y="682.213" width="1" height="18.1868" fill="#c0c0c0"/>
<rect x="328" y="687.008" width="1" height="13.3919" fill="#c0c0c0"/>
<rect x="332" y="691.333" width="1" height="9.06675" fill="#c0c0c0"/>
<rect x="336" y="694.964" width="1" height="5.43611" fill="#c0c0c0"/>
<rect x="340" y="696.623" width="1" height="3.77736" fill="#c0c0c0"/>
<rect x="344" y="699.213" width="1" height="1.187" fill="#c0c0c0"/>
<rect x="348" y="698.622" width="1" height="1.77807" fill="#c0c0c0"/>
<rect x="352" y="697.347" width="1" height="3.05271" fill="#c0c0c0"/>
<rect x="356" y="697.077" width="1" height="3.3234" fill="#c0c0c0"/>
<rect x="360" y="696.902" width="1" height="3.4976" fill="#c0c0c0"/>
<rect x="364" y="696.39" width="1" height="4.01013" fill="#c0c0c0"/>
<rect x="368" y="693.816" width="1" height="6.58415" fill="#c0c0c0"/>
<rect x="372" y="693.122" width="1" height="7.27809" fill="#c0c0c0"/>
<rect x="376" y="693.493" width="1" height="6.90701" fill="#c0c0c0"/>
<rect x="380" y="692.615" width="1" height="7.78529" fill="#c0c0c0"/>
<rect x="384" y="692.293" width="1" height="8.10741" fill="#c0c0c0"/>
<rect x="388" y="691.994" width="1" height="8.40603" fill="#c0c0c0"/>
<rect x="392" y="692.826" width="1" height="7.57374" fill="#c0c0c0"/>
<rect x="396" y="693.981" width="1" height="6.41944" fill="#c0c0c0"/>
<rect x="400" y="695.651" width="1" height="4.74875" fill="#c0c0c0"/>
<rect x="404" y="691.192" width="1" height="9.20838" fill="#c0c0c0"/>
<rect x="408" y="687.664" width="1" height="12.7361" fill="#c0c0c0"/>
<rect x="412" y="685.6" width="1" height="14.8003" fill="#c0c0c0"/>
<rect x="416" y="685.26" width="1" height="15.1398" fill="#c0c0c0"/>
<rect x="420" y="684.335" width="1" height="16.0651" fill="#c0c0c0"/>
<rect x="424" y="686.566" width="1" height="13.8342" fill="#c0c0c0"/>
<rect x="428" y="689.58" width="1" height="10.8196" fill="#c0c0c0"/>
<rect x="432" y="690.956" width="1" height="9.44355" fill="#c0c0c0"/>
<rect x="436" y="691.033" width="1" height="9.36691" fill="#c0c0c0"/>
<rect x="440" y="692.309" width="1" height="8.09104" fill="#c0c0c0"/>
<rect x="444" y="692.292" width="1" height="8.1083" fill="#c0c0c0"/>
<rect x="448" y="691.539" width="1" height="8.86123" fill="#c0c0c0"/>
<rect x="452" y="689.663" width="1" height="10.7365" fill="#c0c0c0"/>
<rect x="456" y="688.733" width="1" height="11.6675" fill="#c0c0c0"/>
<rect x="460" y="688.968" width="1" height="11.4321" fill="#c0c0c0"/>
<rect x="464" y="690.114" width="1" height="10.2856" fill="#c0c0c0"/>
<rect x="468" y="691.684" width="1" height="8.71558" fill="#c0c0c0"/>
<rect x="472" y="691.073" width="1" height="9.32709" fill="#c0c0c0"/>
<rect x="476" y="688.759" width="1" height="11.6408" fill="#c0c0c0"/>
<rect x="480" y="687.356" width="1" height="13.0436" fill="#c0c0c0"/>
<rect x="484" y="686.267" width="1" height="14.1327" fill="#c0c0c0"/>
<rect x="488" y="685.852" width="1" height="14.5476" fill="#c0c0c0"/>
<rect x="492" y="681.534" width="1" height="18.8659" fill="#c0c0c0"/>
<rect x="496" y="681.277" width="1" height="19.1229" fill="#c0c0c0"/>
<rect x="500" y="680.739" width="1" height="19.6609" fill="#c0c0c0"/>
<rect x="504" y="681.373" width="1" height="19.0265" fill="#c0c0c0"/>
<rect x="508" y="683.89" width="1" height="16.5104" fill="#c0c0c0"/>
<rect x="512" y="687.99" width="1" height="12.41" fill="#c0c0c0"/>
<rect x="516" y="690.928" width="1" height="9.47195" fill="#c0c0c0"/>
<rect x="520" y="693.477" width="1" height="6.92348" fill="#c0c0c0"/>
<rect x="524" y="699.711" width="1" height="1" fill="#c0c0c0"/>
<rect x="528" y="700.4" width="1" height="3.92643" fill="#c0c0c0"/>
<rect x="532" y="700.4" width="1" height="8.60673" fill="#c0c0c0"/>
<rect x="536" y="700.4" width="1" height="10.6505" fill="#c0c0c0"/>
<rect x="540" y="700.4" width="1" height="14.4873" fill="#c0c0c0"/>
<rect x="544" y="700.4" width="1" height="15.9418" fill="#c0c0c0"/>
<rect x="548" y="700.4" width="1" height="15.9292" fill="#c0c0c0"/>
<rect x="552" y="700.4" width="1" height="15.1833" fill="#c0c0c0"/>
<rect x="556" y="700.4" width="1" height="14.5646" fill="#c0c0c0"/>
<rect x="560" y="700.4" width="1" height="13.4979" fill="#c0c0c0"/>
<rect x="564" y="700.4" width="1" height="13.0629" fill="#c0c0c0"/>
<rect x="568" y="700.4" width="1" height="12.1573" fill="#c0c0c0"/>
<rect x="572" y="700.4" width="1" height="12.0024" fill="#c0c0c0"/>
<rect x="576" y="700.4" width="1" height="11.7443" fill="#c0c0c0"/>
<rect x="580" y="700.4" width="1" height="13.2105" fill="#c0c0c0"/>
<rect x="584" y="700.4" width="1" height="14.4859" fill="#c0c0c0"/>
<rect x="588" y="700.4" width="1" height="13.5179" fill="#c0c0c0"/>
<rect x="592" y="700.4" width="1" height="11.6349" fill="#c0c0c0"/>
<rect x="596" y="700.4" width="1" height="9.88846" fill="#c0c0c0"/>
<rect x="600" y="700.4" width="1" height="8.40745" fill="#c0c0c0"/>
<rect x="604" y="700.4" width="1" height="7.84448" fill="#c0c0c0"/>
<rect x="608" y="700.4" width="1" height="8.28446" fill="#c0c0c0"/>
<rect x="612" y="700.4" width="1" height="8.67341" fill="#c0c0c0"/>
<rect x="616" y="700.4" width="1" height="8.46338" fill="#c0c0c0"/>
<rect x="620" y="700.4" width="1" height="8.75693" fill="#c0c0c0"/>
<rect x="624" y="700.4" width="1" height="8.47121" fill="#c0c0c0"/>
<rect x="628" y="700.4" width="1" height="13.0031" fill="#c0c0c0"/>
<rect x="632" y="700.4" width="1" height="16.6828" fill="#c0c0c0"/>
<rect x="636" y="700.4" width="1" height="20.3461" fill="#c0c0c0"/>
<rect x="640" y="700.4" width="1" height="24.7865" fill="#c0c0c0"/>
<rect x="644" y="700.4" width="1" height="25.349" fill="#c0c0c0"/>
<rect x="648" y="700.4" width="1" height="25.3622" fill="#c0c0c0"/>
<rect x="652" y="700.4" width="1" height="26.3312" fill="#c0c0c0"/>
<rect x="656" y="700.4" width="1" height="25.6812" fill="#c0c0c0"/>
<rect x="660" y="700.4" width="1" height="27.0975" fill="#c0c0c0"/>
<rect x="664" y="700.4" width="1" height="27.7597" fill="#c0c0c0"/>
<rect x="668" y="700.4" width="1" height="27.4076" fill="#c0c0c0"/>
<rect x="672" y="700.4" width="1" height="27.2353" fill="#c0c0c0"/>
<rect x="676" y="700.4" width="1" height="26.79" fill="#c0c0c0"/>
<rect x="680" y="700.4" width="1" height="27.2448" fill="#c0c0c0"/>
<rect x="684" y="700.4" width="1" height="24.6567" fill="#c0c0c0"/>
<rect x="688" y="700.4" width="1" height="23.3183" fill="#c0c0c0"/>
<rect x="692" y="700.4" width="1" height="19.0927" fill="#c0c0c0"/>
<rect x="696" y="700.4" width="1" height="16.5349" fill="#c0c0c0"/>
<rect x="700" y="700.4" width="1" height="15.8675" fill="#c0c0c0"/>
<rect x="704" y="700.4" width="1" height="15.3024" fill="#c0c0c0"/>
<rect x="708" y="700.4" width="1" height="14.5466" fill="#c0c0c0"/>
<rect x="712" y="700.4" width="1" height="12.6796" fill="#c0c0c0"/>
<rect x="716" y="700.4" width="1" height="13.9838" fill="#c0c0c0"/>
<rect x="720" y="700.4" width="1" height="14.0143" fill="#c0c0c0"/>
<rect x="724" y="700.4" width="1" height="14.5718" fill="#c0c0c0"/>
<rect x="728" y="700.4" width="1" height="15.1197" fill="#c0c0c0"/>
<rect x="732" y="700.4" width="1" height="19.5358" fill="#c0c0c0"/>
<rect x="736" y="700.4" width="1" height="21.1094" fill="#c0c0c0"/>
<rect x="740" y="700.4" width="1" height="20.1608" fill="#c0c0c0"/>
<rect x="744" y="700.4" width="1" height="19.6038" fill="#c0c0c0"/>
<rect x="748" y="700.4" width="1" height="19.6371" fill="#c0c0c0"/>
<rect x="752" y="700.4" width="1" height="20.9645" fill="#c0c0c0"/>
<rect x="756" y="700.4" width="1" height="22.5973" fill="#c0c0c0"/>
<rect x="760" y="700.4" width="1" height="22.3714" fill="#c0c0c0"/>
<rect x="764" y="700.4" width="1" height="22.494" fill="#c0c0c0"/>
<rect x="768" y="700.4" width="1" height="22.0564" fill="#c0c0c0"/>
<rect x="772" y="700.4" width="1" height="22.5713" fill="#c0c0c0"/>
<rect x="776" y="700.4" width="1" height="24.797" fill="#c0c0c0"/>
<rect x="780" y="700.4" width="1" height="25.9809" fill="#c0c0c0"/>
<rect x="784" y="700.4" width="1" height="26.8897" fill="#c0c0c0"/>
<rect x="788" y="700.4" width="1" height="26.1862" fill="#c0c0c0"/>
<rect x="792" y="700.4" width="1" height="25.0593" fill="#c0c0c0"/>
<rect x="796" y="700.4" width="1" height="25" fill="#c0c0c0"/>
<rect x="800" y="700.4" width="1" height="25.7776" fill="#c0c0c0"/>
<rect x="804" y="700.4" width="1" height="27.3409" fill="#c0c0c0"/>
<rect x="808" y="700.4" width="1" height="28.5313" fill="#c0c0c0"/>
<rect x="812" y="700.4" width="1" height="30.9412" fill="#c0c0c0"/>
<rect x="816" y="700.4" width="1" height="32.6152" fill="#c0c0c0"/>
<rect x="820" y="700.4" width="1" height="34.6642" fill="#c0c0c0"/>
<rect x="824" y="700.4" width="1" height="37.3995" fill="#c0c0c0"/>
<rect x="828" y="700.4" width="1" height="38.8391" fill="#c0c0c0"/>
<rect x="832" y="700.4" width="1" height="38.2766" fill="#c0c0c0"/>
<rect x="836" y="700.4" width="1" height="37.9543" fill="#c0c0c0"/>
<rect x="840" y="700.4" width="1" height="37.8237" fill="#c0c0c0"/>
<rect x="844" y="700.4" width="1" height="37.4291" fill="#c0c0c0"/>
<rect x="848" y="700.4" width="1" height="35.0297" fill="#c0c0c0"/>
<rect x="852" y="700.4" width="1" height="34.5529" fill="#c0c0c0"/>
<rect x="856" y="700.4" width="1" height="33.6469" fill="#c0c0c0"/>
<rect x="860" y="700.4" width="1" height="31.7219" fill="#c0c0c0"/>
<rect x="864" y="700.4" width="1" height="30.6839" fill="#c0c0c0"/>
<rect x="868" y="700.4" width="1" height="32.0165" fill="#c0c0c0"/>
<rect x="872" y="700.4" width="1" height="35.6071" fill="#c0c0c0"/>
<rect x="876" y="700.4" width="1" height="40.0939" fill="#c0c0c0"/>
<rect x="880" y="700.4" width="1" height="41.3501" fill="#c0c0c0"/>
<rect x="884" y="700.4" width="1" height="41.863" fill="#c0c0c0"/>
<rect x="888" y="700.4" width="1" height="41.0947" fill="#c0c0c0"/>
<rect x="892" y="700.4" width="1" height="37.6676" fill="#c0c0c0"/>
<rect x="896" y="700.4" width="1" height="36.4941" fill="#c0c0c0"/>
<rect x="900" y="700.4" width="1" height="31.9703" fill="#c0c0c0"/>
<rect x="904" y="700.4" width="1" height="26.398" fill="#c0c0c0"/>
<rect x="908" y="700.4" width="1" height="21.87" fill="#c0c0c0"/>
<rect x="912" y="700.4" width="1" height="18.7664" fill="#c0c0c0"/>
<rect x="916" y="700.4" width="1" height="17.5073" fill="#c0c0c0"/>
<rect x="920" y="700.4" width="1" height="15.0736" fill="#c0c0c0"/>
<rect x="924" y="700.4" width="1" height="16.461" fill="#c0c0c0"/>
<rect x="928" y="700.4" width="1" height="21.2422" fill="#c0c0c0"/>
<rect x="932" y="700.4" width="1" height="23.221" fill="#c0c0c0"/>
<rect x="936" y="700.4" width="1" height="25.4772" fill="#c0c0c0"/>
<rect x="940" y="700.4" width="1" height="29.7273" fill="#c0c0c0"/>
<rect x="944" y="700.4" width="1" height="31.332" fill="#c0c0c0"/>
<rect x="948" y="700.4" width="1" height="32.6481" fill="#c0c0c0"/>
<rect x="952" y="700.4" width="1" height="32.3367" fill="#c0c0c0"/>
<rect x="956" y="700.4" width="1" height="36.7151" fill="#c0c0c0"/>
<rect x="960" y="700.4" width="1" height="39.5885" fill="#c0c0c0"/>
<rect x="964" y="700.4" width="1" height="36.259" fill="#c0c0c0"/>
<rect x="968" y="700.4" width="1" height="33.5145" fill="#c0c0c0"/>
<rect x="972" y="700.4" width="1" height="33.755" fill="#c0c0c0"/>
<rect x="976" y="700.4" width="1" height="32.727" fill="#c0c0c0"/>
<rect x="980" y="700.4" width="1" height="34.044" fill="#c0c0c0"/>
<rect x="984" y="700.4" width="1" height="34.4106" fill="#c0c0c0"/>
<rect x="988" y="700.4" width="1" height="35.9694" fill="#c0c0c0"/>
<rect x="992" y="700.4" width="1" height="38.1671" fill="#c0c0c0"/>
<rect x="996" y="700.4" width="1" height="41.2562" fill="#c0c0c0"/>
<rect x="1000" y="700.4" width="1" height="40.7109" fill="#c0c0c0"/>
<rect x="1004" y="700.4" width="1" height="39.681" fill="#c0c0c0"/>
<rect x="1008" y="700.4" width="1" height="38.6993" fill="#c0c0c0"/>
<rect x="1012" y="700.4" width="1" height="34.1618" fill="#c0c0c0"/>
<rect x="1016" y="700.4" width="1" height="30.2175" fill="#c0c0c0"/>
<rect x="1020" y="700.4" width="1" height="24.5647" fill="#c0c0c0"/>
<rect x="1024" y="700.4" width="1" height="20.965" fill="#c0c0c0"/>
<rect x="1028" y="700.4" width="1" height="19.8467" fill="#c0c0c0"/>
<rect x="1032" y="700.4" width="1" height="18.883" fill="#c0c0c0"/>
<rect x="1036" y="700.4" width="1" height="18.1901" fill="#c0c0c0"/>
<rect x="1040" y="700.4" width="1" height="18.6876" fill="#c0c0c0"/>
<rect x="1044" y="700.4" width="1" height="21.9144" fill="#c0c0c0"/>
<rect x="1048" y="700.4" width="1" height="27.1042" fill="#c0c0c0"/>
<rect x="1052" y="700.4" width="1" height="32.6636" fill="#c0c0c0"/>
<rect x="1056" y="700.4" width="1" height="36.9243" fill="#c0c0c0"/>
<rect x="1060" y="700.4" width="1" height="36.2371" fill="#c0c0c0"/>
<rect x="1064" y="700.4" width="1" height="37.2267" fill="#c0c0c0"/>
<rect x="1068" y="700.4" width="1" height="36.0528" fill="#c0c0c0"/>
<rect x="1072" y="700.4" width="1" height="36.3858" fill="#c0c0c0"/>
<rect x="1076" y="700.4" width="1" height="35.5389" fill="#c0c0c0"/>
<rect x="1080" y="700.4" width="1" height="35.4408" fill="#c0c0c0"/>
<rect x="1084" y="700.4" width="1" height="37.3169" fill="#c0c0c0"/>
<rect x="1088" y="700.4" width="1" height="40.3024" fill="#c0c0c0"/>
<rect x="1092" y="700.4" width="1" height="41.6276" fill="#c0c0c0"/>
<rect x="1096" y="700.4" width="1" height="40.3893" fill="#c0c0c0"/>
<rect x="1100" y="700.4" width="1" height="40.8997" fill="#c0c0c0"/>
<rect x="1104" y="700.4" width="1" height="41.2494" fill="#c0c0c0"/>
<rect x="1108" y="700.4" width="1" height="38.0033" fill="#c0c0c0"/>
<rect x="1112" y="700.4" width="1" height="34.7497" fill="#c0c0c0"/>
<rect x="1116" y="700.4" width="1" height="33.1909" fill="#c0c0c0"/>
<rect x="1120" y="700.4" width="1" height="32.2846" fill="#c0c0c0"/>
<rect x="1124" y="700.4" width="1" height="30.7907" fill="#c0c0c0"/>
<rect x="1128" y="700.4" width="1" height="29.1308" fill="#c0c0c0"/>
<rect x="1132" y="700.4" width="1" height="26.8051" fill="#c0c0c0"/>
<rect x="1136" y="700.4" width="1" height="26.4797" fill="#c0c0c0"/>
<rect x="1140" y="700.4" width="1" height="26.6163" fill="#c0c0c0"/>
<rect x="1144" y="700.4" width="1" height="27.9449" fill="#c0c0c0"/>
<rect x="1148" y="700.4" width="1" height="30.6083" fill="#c0c0c0"/>
<rect x="1152" y="700.4" width="1" height="32.6235" fill="#c0c0c0"/>
<rect x="1156" y="700.4" width="1" height="32.9987" fill="#c0c0c0"/>
<rect x="1160" y="700.4" width="1" height="33.4712" fill="#c0c0c0"/>
<rect x="1164" y="700.4" width="1" height="32.4895" fill="#c0c0c0"/>
<rect x="1168" y="700.4" width="1" height="29.8251" fill="#c0c0c0"/>
<rect x="1172" y="700.4" width="1" height="27.9523" fill="#c0c0c0"/>
<rect x="1176" y="700.4" width="1" height="26.0278" fill="#c0c0c0"/>
<rect x="1180" y="700.4" width="1" height="24.5006" fill="#c0c0c0"/>
<rect x="1184" y="700.4" width="1" height="23.7181" fill="#c0c0c0"/>
<rect x="1188" y="700.4" width="1" height="24.3598" fill="#c0c0c0"/>
<rect x="1192" y="700.4" width="1" height="23.8917" fill="#c0c0c0"/>
<rect x="1196" y="700.4" width="1" height="22.9754" fill="#c0c0c0"/>
<rect x="1200" y="700.4" width="1" height="21.5798" fill="#c0c0c0"/>
<rect x="1204" y="700.4" width="1" height="19.1313" fill="#c0c0c0"/>
<rect x="1208" y="700.4" width="1" height="16.4405" fill="#c0c0c0"/>
<rect x="1212" y="700.4" width="1" height="15.3926" fill="#c0c0c0"/>
<rect x="1216" y="700.4" width="1" height="15.644" fill="#c0c0c0"/>
<rect x="1220" y="700.4" width="1" height="15.524" fill="#c0c0c0"/>
<rect x="1224" y="700.4" width="1" height="13.5894" fill="#c0c0c0"/>
<rect x="1228" y="700.4" width="1" height="13.028" fill="#c0c0c0"/>
<rect x="1232" y="700.4" width="1" height="14.2419" fill="#c0c0c0"/>
<rect x="1236" y="700.4" width="1" height="15.7238" fill="#c0c0c0"/>
<rect x="1240" y="700.4" width="1" height="16.2898" fill="#c0c0c0"/>
<rect x="1244" y="700.4" width="1" height="16.1317" fill="#c0c0c0"/>
<rect x="1248" y="700.4" width="1" height="20.6762" fill="#c0c0c0"/>
<rect x="1252" y="700.4" width="1" height="24.0011" fill="#c0c0c0"/>
<rect x="1577" y="653" width="1" height="1" fill="#000"/>
<rect x="1577" y="700" width="1" height="1" fill="#000"/>
<rect x="1577" y="746" width="1" height="1" fill="#000"/>
</g>
<path d="M292 661h3v1h-3zM288 662h1v1h-1zM298 662h3v1h-3zM286 663h2v1h-2zM304 663h2v1h-2zM306 664h1v1h-1zM310 665h1v1h-1zM282 666h1v1h-1zM311 666h2v1h-2zM281 667h1v1h-1zM316 667h1v1h-1zM280 668h1v1h-1zM317 668h2v1h-2zM322 670h1v1h-1zM323 671h2v1h-2zM276 672h1v1h-1zM275 673h1v1h-1zM274 674h1v1h-1zM328 674h1v1h-1zM329 675h1v1h-1zM330 676h1v1h-1zM270 678h1v1h-1zM269 679h1v1h-1zM334 679h2v1h-2zM268 680h1v1h-1zM336 680h1v1h-1zM189 682h1v1h-1zM178 683h2v1h-2zM183 683h3v1h-3zM190 683h2v1h-2zM340 683h1v1h-1zM177 684h1v1h-1zM195 684h2v1h-2zM265 684h1v2h-1zM341 684h1v1h-1zM508 684h3v1h-3zM514 684h3v1h-3zM129 685h3v1h-3zM171 685h3v1h-3zM197 685h1v1h-1zM342 685h1v1h-1zM502 685h3v1h-3zM520 685h1v1h-1zM123 686h3v1h-3zM135 686h3v1h-3zM141 686h3v1h-3zM166 686h2v1h-2zM264 686h1v1h-1zM498 686h1v1h-1zM521 686h2v1h-2zM119 687h1v1h-1zM147 687h3v1h-3zM153 687h1v1h-1zM165 687h1v1h-1zM201 687h1v1h-1zM496 687h2v1h-2zM117 688h2v1h-2zM154 688h2v1h-2zM159 688h3v1h-3zM202 688h2v1h-2zM346 688h2v1h-2zM436 688h3v1h-3zM490 688h3v1h-3zM526 688h1v1h-1zM348 689h1v1h-1zM424 689h3v1h-3zM430 689h3v1h-3zM442 689h3v1h-3zM448 689h2v1h-2zM484 689h3v1h-3zM527 689h2v1h-2zM261 690h1v1h-1zM418 690h3v1h-3zM450 690h1v1h-1zM454 690h3v1h-3zM474 690h1v1h-1zM478 690h3v1h-3zM113 691h1v1h-1zM260 691h1v1h-1zM414 691h1v1h-1zM460 691h3v1h-3zM466 691h3v1h-3zM472 691h2v1h-2zM111 692h2v1h-2zM207 692h1v1h-1zM259 692h1v1h-1zM352 692h1v1h-1zM406 692h3v1h-3zM412 692h2v1h-2zM532 692h1v1h-1zM208 693h1v1h-1zM353 693h2v1h-2zM394 693h3v1h-3zM400 693h3v1h-3zM533 693h1v1h-1zM209 694h1v1h-1zM388 694h3v1h-3zM534 694h1v1h-1zM107 695h1v1h-1zM358 695h3v1h-3zM378 695h1v1h-1zM382 695h3v1h-3zM106 696h1v1h-1zM257 696h1v1h-1zM364 696h2v1h-2zM376 696h2v1h-2zM105 697h1v1h-1zM213 697h1v1h-1zM256 697h1v1h-1zM366 697h1v1h-1zM370 697h3v1h-3zM214 698h1v1h-1zM255 698h1v1h-1zM538 698h2v1h-2zM215 699h1v1h-1zM540 699h1v1h-1zM101 701h1v1h-1zM100 702h1v1h-1zM251 702h1v1h-1zM99 703h1v1h-1zM219 703h1v1h-1zM250 703h1v1h-1zM544 703h1v1h-1zM220 704h1v1h-1zM249 704h1v1h-1zM545 704h1v1h-1zM221 705h1v1h-1zM546 705h1v1h-1zM245 706h1v1h-1zM96 707h1v1h-1zM243 707h2v1h-2zM95 708h1v1h-1zM225 708h2v1h-2zM550 708h2v1h-2zM94 709h1v1h-1zM227 709h1v1h-1zM238 709h2v1h-2zM552 709h1v1h-1zM622 709h3v1h-3zM628 709h2v1h-2zM231 710h3v1h-3zM237 710h1v1h-1zM618 710h1v1h-1zM630 710h1v1h-1zM556 711h1v1h-1zM606 711h1v1h-1zM610 711h3v1h-3zM616 711h2v1h-2zM634 711h1v1h-1zM557 712h2v1h-2zM598 712h3v1h-3zM604 712h2v1h-2zM635 712h2v1h-2zM90 713h1v2h-1zM592 713h3v1h-3zM640 713h1v1h-1zM562 714h3v1h-3zM568 714h3v1h-3zM574 714h3v1h-3zM580 714h3v1h-3zM586 714h3v1h-3zM641 714h2v1h-2zM0 715h3v1h-3zM89 715h1v1h-1zM726 715h1v1h-1zM730 715h3v1h-3zM1240 715h3v1h-3zM6 716h3v1h-3zM12 716h1v1h-1zM646 716h1v1h-1zM724 716h2v1h-2zM736 716h2v1h-2zM1230 716h1v1h-1zM1234 716h3v1h-3zM1246 716h3v1h-3zM13 717h2v1h-2zM647 717h2v1h-2zM718 717h3v1h-3zM738 717h1v1h-1zM742 717h3v1h-3zM1228 717h2v1h-2zM1252 717h1v1h-1zM714 718h1v1h-1zM748 718h2v1h-2zM18 719h3v1h-3zM86 719h1v1h-1zM652 719h1v1h-1zM712 719h2v1h-2zM750 719h1v1h-1zM1222 719h3v1h-3zM24 720h1v1h-1zM85 720h1v1h-1zM653 720h2v1h-2zM754 720h3v1h-3zM1218 720h1v1h-1zM25 721h2v1h-2zM84 721h1v1h-1zM706 721h3v1h-3zM760 721h3v1h-3zM934 721h3v1h-3zM940 721h2v1h-2zM1216 721h2v1h-2zM658 722h1v1h-1zM766 722h3v1h-3zM772 722h3v1h-3zM930 722h1v1h-1zM942 722h1v1h-1zM1210 722h3v1h-3zM30 723h1v1h-1zM659 723h2v1h-2zM701 723h2v1h-2zM778 723h3v1h-3zM928 723h2v1h-2zM946 723h1v1h-1zM1043 723h2v1h-2zM1048 723h3v1h-3zM1206 723h1v1h-1zM31 724h2v1h-2zM700 724h1v1h-1zM784 724h3v1h-3zM947 724h2v1h-2zM1042 724h1v1h-1zM1054 724h3v1h-3zM1204 724h2v1h-2zM36 725h1v1h-1zM80 725h1v1h-1zM664 725h2v1h-2zM694 725h3v1h-3zM790 725h3v1h-3zM796 725h3v1h-3zM924 725h1v1h-1zM1199 725h2v1h-2zM37 726h1v1h-1zM79 726h1v1h-1zM666 726h1v1h-1zM690 726h1v1h-1zM802 726h3v1h-3zM922 726h2v1h-2zM952 726h1v1h-1zM1038 726h1v1h-1zM1060 726h1v1h-1zM1198 726h1v1h-1zM38 727h1v1h-1zM78 727h1v1h-1zM670 727h3v1h-3zM676 727h3v1h-3zM682 727h3v1h-3zM688 727h2v1h-2zM808 727h3v1h-3zM953 727h2v1h-2zM1037 727h1v1h-1zM1061 727h2v1h-2zM1194 727h1v1h-1zM814 728h3v1h-3zM1036 728h1v1h-1zM1192 728h2v1h-2zM42 729h1v1h-1zM820 729h2v1h-2zM918 729h1v1h-1zM1066 729h1v1h-1zM1186 729h3v1h-3zM43 730h2v1h-2zM73 730h2v1h-2zM822 730h1v1h-1zM917 730h1v1h-1zM958 730h2v1h-2zM1032 730h1v1h-1zM1067 730h2v1h-2zM1144 730h3v1h-3zM1150 730h3v1h-3zM1156 730h3v1h-3zM1162 730h3v1h-3zM1180 730h3v1h-3zM72 731h1v1h-1zM826 731h1v1h-1zM916 731h1v1h-1zM960 731h1v1h-1zM1030 731h2v1h-2zM1139 731h2v1h-2zM1168 731h3v1h-3zM1174 731h3v1h-3zM48 732h1v1h-1zM827 732h2v1h-2zM964 732h2v1h-2zM1072 732h1v1h-1zM1138 732h1v1h-1zM49 733h2v1h-2zM67 733h2v1h-2zM832 733h2v1h-2zM912 733h1v1h-1zM966 733h1v1h-1zM1073 733h2v1h-2zM66 734h1v1h-1zM834 734h1v1h-1zM910 734h2v1h-2zM970 734h3v1h-3zM1025 734h2v1h-2zM1133 734h2v1h-2zM54 735h3v1h-3zM60 735h3v1h-3zM838 735h1v1h-1zM868 735h3v1h-3zM874 735h3v1h-3zM880 735h2v1h-2zM976 735h3v1h-3zM982 735h3v1h-3zM1024 735h1v1h-1zM1078 735h3v1h-3zM1132 735h1v1h-1zM839 736h2v1h-2zM862 736h3v1h-3zM882 736h1v1h-1zM906 736h1v1h-1zM988 736h3v1h-3zM994 736h3v1h-3zM1000 736h2v1h-2zM1018 736h3v1h-3zM1084 736h2v1h-2zM1126 736h3v1h-3zM844 737h3v1h-3zM850 737h3v1h-3zM856 737h3v1h-3zM886 737h3v1h-3zM892 737h2v1h-2zM904 737h2v1h-2zM1002 737h1v1h-1zM1014 737h1v1h-1zM1086 737h1v1h-1zM1122 737h1v1h-1zM894 738h1v1h-1zM898 738h3v1h-3zM1006 738h3v1h-3zM1012 738h2v1h-2zM1090 738h3v1h-3zM1096 738h2v1h-2zM1120 738h2v1h-2zM1098 739h1v1h-1zM1102 739h3v1h-3zM1108 739h3v1h-3zM1114 739h3v1h-3z" fill="#ff0000" shape-rendering="crispEdges"/>
<text x="4" y="664" font-size="10" fill="#000" textLength="154" lengthAdjust="spacingAndGlyphs" stroke="#000" stroke-width="0.2">MACD(12,26,9) -0.021526 -0.014827</text>
<text x="1580" y="662" font-size="10" fill="#000" textLength="37" lengthAdjust="spacingAndGlyphs" stroke="#000" stroke-width="0.2">0.042275</text>
<text x="1580" y="704" font-size="10" fill="#000" textLength="18" lengthAdjust="spacingAndGlyphs" stroke="#000" stroke-width="0.2">0.00</text>
<text x="1579.5" y="744" font-size="10" fill="#000" textLength="37" lengthAdjust="spacingAndGlyphs" stroke="#000" stroke-width="0.2">-0.04148</text>
<g shape-rendering="crispEdges">
<rect x="0" y="748" width="1" height="3" fill="#000"/>
<rect x="64" y="748" width="1" height="3" fill="#000"/>
<rect x="128" y="748" width="1" height="3" fill="#000"/>
<rect x="192" y="748" width="1" height="3" fill="#000"/>
<rect x="256" y="748" width="1" height="3" fill="#000"/>
<rect x="320" y="748" width="1" height="3" fill="#000"/>
<rect x="384" y="748" width="1" height="3" fill="#000"/>
<rect x="448" y="748" width="1" height="3" fill="#000"/>
<rect x="512" y="748" width="1" height="3" fill="#000"/>
<rect x="576" y="748" width="1" height="3" fill="#000"/>
<rect x="640" y="748" width="1" height="3" fill="#000"/>
<rect x="704" y="748" width="1" height="3" fill="#000"/>
<rect x="768" y="748" width="1" height="3" fill="#000"/>
<rect x="832" y="748" width="1" height="3" fill="#000"/>
<rect x="896" y="748" width="1" height="3" fill="#000"/>
<rect x="960" y="748" width="1" height="3" fill="#000"/>
<rect x="1024" y="748" width="1" height="3" fill="#000"/>
<rect x="1088" y="748" width="1" height="3" fill="#000"/>
<rect x="1152" y="748" width="1" height="3" fill="#000"/>
<rect x="1216" y="748" width="1" height="3" fill="#000"/>
</g>
<text x="-3" y="760" font-size="10" fill="#000" textLength="45.5" lengthAdjust="spacingAndGlyphs" stroke="#000" stroke-width="0.2">4 Jan 2020</text>
<text x="63" y="760" font-size="10" fill="#000" textLength="50.6" lengthAdjust="spacingAndGlyphs" stroke="#000" stroke-width="0.2">23 Jan 2020</text>
<text x="127" y="760" font-size="10" fill="#000" textLength="51" lengthAdjust="spacingAndGlyphs" stroke="#000" stroke-width="0.2">11 Feb 2020</text>
<text x="191" y="760" font-size="10" fill="#000" textLength="51.7" lengthAdjust="spacingAndGlyphs" stroke="#000" stroke-width="0.2">29 Feb 2020</text>
<text x="255" y="760" font-size="10" fill="#000" textLength="51.7" lengthAdjust="spacingAndGlyphs" stroke="#000" stroke-width="0.2">19 Mar 2020</text>
<text x="319" y="760" font-size="10" fill="#000" textLength="44.5" lengthAdjust="spacingAndGlyphs" stroke="#000" stroke-width="0.2">7 Apr 2020</text>
<text x="383" y="760" font-size="10" fill="#000" textLength="49.6" lengthAdjust="spacingAndGlyphs" stroke="#000" stroke-width="0.2">25 Apr 2020</text>
<text x="447" y="760" font-size="10" fill="#000" textLength="53.2" lengthAdjust="spacingAndGlyphs" stroke="#000" stroke-width="0.2">14 May 2020</text>
<text x="511" y="760" font-size="10" fill="#000" textLength="45.5" lengthAdjust="spacingAndGlyphs" stroke="#000" stroke-width="0.2">2 Jun 2020</text>
<text x="575" y="760" font-size="10" fill="#000" textLength="50.6" lengthAdjust="spacingAndGlyphs" stroke="#000" stroke-width="0.2">20 Jun 2020</text>
<text x="639" y="760" font-size="10" fill="#000" textLength="42.5" lengthAdjust="spacingAndGlyphs" stroke="#000" stroke-width="0.2">9 Jul 2020</text>
<text x="703" y="760" font-size="10" fill="#000" textLength="47.6" lengthAdjust="spacingAndGlyphs" stroke="#000" stroke-width="0.2">28 Jul 2020</text>
<text x="767" y="760" font-size="10" fill="#000" textLength="51.7" lengthAdjust="spacingAndGlyphs" stroke="#000" stroke-width="0.2">15 Aug 2020</text>
<text x="831" y="760" font-size="10" fill="#000" textLength="47.1" lengthAdjust="spacingAndGlyphs" stroke="#000" stroke-width="0.2">3 Sep 2020</text>
<text x="895" y="760" font-size="10" fill="#000" textLength="52.2" lengthAdjust="spacingAndGlyphs" stroke="#000" stroke-width="0.2">22 Sep 2020</text>
<text x="959" y="760" font-size="10" fill="#000" textLength="50.1" lengthAdjust="spacingAndGlyphs" stroke="#000" stroke-width="0.2">10 Oct 2020</text>
<text x="1023" y="760" font-size="10" fill="#000" textLength="50.1" lengthAdjust="spacingAndGlyphs" stroke="#000" stroke-width="0.2">29 Oct 2020</text>
<text x="1087" y="760" font-size="10" fill="#000" textLength="52.2" lengthAdjust="spacingAndGlyphs" stroke="#000" stroke-width="0.2">17 Nov 2020</text>
<text x="1151" y="760" font-size="10" fill="#000" textLength="47.1" lengthAdjust="spacingAndGlyphs" stroke="#000" stroke-width="0.2">5 Dec 2020</text>
<text x="1215" y="760" font-size="10" fill="#000" textLength="52.2" lengthAdjust="spacingAndGlyphs" stroke="#000" stroke-width="0.2">24 Dec 2020</text>
<g shape-rendering="crispEdges">
<rect x="0" y="768" width="1619" height="1" fill="#e3e3e3"/>
<rect x="0" y="770" width="1619" height="20" fill="#f0f0f0"/>
<rect x="0" y="770" width="414" height="1" fill="#000"/>
<rect x="0" y="771" width="413" height="1" fill="#fff"/>
<rect x="517" y="770" width="1102" height="1" fill="#000"/>
<rect x="517" y="771" width="1102" height="1" fill="#fff"/>
<rect x="414" y="770" width="102" height="18" fill="#fff"/>
<rect x="413" y="770" width="1" height="19" fill="#000"/>
<rect x="516" y="770" width="1" height="19" fill="#000"/>
<rect x="413" y="788" width="104" height="1" fill="#000"/>
<rect x="414" y="789" width="103" height="1" fill="#a0a0a0"/>
<rect x="105" y="773" width="1" height="14" fill="#6d6d6d"/>
<rect x="205" y="773" width="1" height="14" fill="#6d6d6d"/>
<rect x="310" y="773" width="1" height="14" fill="#6d6d6d"/>
<rect x="621" y="773" width="1" height="14" fill="#6d6d6d"/>
<rect x="713" y="773" width="1" height="14" fill="#6d6d6d"/>
<rect x="829" y="773" width="1" height="14" fill="#6d6d6d"/>
<rect x="901" y="773" width="1" height="14" fill="#6d6d6d"/>
<rect x="981" y="773" width="1" height="14" fill="#6d6d6d"/>
<rect x="1061" y="773" width="1" height="14" fill="#6d6d6d"/>
<rect x="1141" y="773" width="1" height="14" fill="#6d6d6d"/>
<rect x="1217" y="773" width="1" height="14" fill="#6d6d6d"/>
<rect x="1301" y="773" width="1" height="14" fill="#6d6d6d"/>
<rect x="1385" y="773" width="1" height="14" fill="#6d6d6d"/>
<rect x="1465" y="773" width="1" height="14" fill="#6d6d6d"/>
<rect x="1565" y="773" width="1" height="14" fill="#6d6d6d"/>
</g>
<text x="13" y="785" font-size="12" fill="#5e5e5e" textLength="80" lengthAdjust="spacingAndGlyphs">EURUSD,Daily</text>
<text x="115.5" y="785" font-size="12" fill="#5e5e5e" textLength="78.5" lengthAdjust="spacingAndGlyphs">USDCHF,Daily</text>
<text x="216" y="785" font-size="12" fill="#5e5e5e" textLength="82" lengthAdjust="spacingAndGlyphs">AUDUSD,Daily</text>
<text x="320" y="785" font-size="12" fill="#5e5e5e" textLength="81.5" lengthAdjust="spacingAndGlyphs">USDCAD,Daily</text>
<text x="529" y="785" font-size="12" fill="#5e5e5e" textLength="80" lengthAdjust="spacingAndGlyphs">EURUSD,Daily</text>
<text x="633.5" y="785" font-size="12" fill="#5e5e5e" textLength="67" lengthAdjust="spacingAndGlyphs">GBPUSD,H4</text>
<text x="723" y="785" font-size="12" fill="#5e5e5e" textLength="94.5" lengthAdjust="spacingAndGlyphs">XAUUSD,Weekly</text>
<text x="840" y="785" font-size="12" fill="#5e5e5e" textLength="49" lengthAdjust="spacingAndGlyphs">HK50,H1</text>
<text x="912" y="785" font-size="12" fill="#5e5e5e" textLength="56.5" lengthAdjust="spacingAndGlyphs">UK100,H1</text>
<text x="992.5" y="785" font-size="12" fill="#5e5e5e" textLength="56" lengthAdjust="spacingAndGlyphs">UK100,H1</text>
<text x="1072" y="785" font-size="12" fill="#5e5e5e" textLength="56.5" lengthAdjust="spacingAndGlyphs">GER30,H1</text>
<text x="1151" y="785" font-size="12" fill="#5e5e5e" textLength="54.5" lengthAdjust="spacingAndGlyphs">FRA40,H1</text>
<text x="1227" y="785" font-size="12" fill="#5e5e5e" textLength="63" lengthAdjust="spacingAndGlyphs">USOil,Daily</text>
<text x="1311" y="785" font-size="12" fill="#5e5e5e" textLength="62.5" lengthAdjust="spacingAndGlyphs">USDJPY,H1</text>
<text x="1395.5" y="785" font-size="12" fill="#5e5e5e" textLength="58.5" lengthAdjust="spacingAndGlyphs">DJ30,Daily</text>
<text x="1475" y="785" font-size="12" fill="#5e5e5e" textLength="78.5" lengthAdjust="spacingAndGlyphs">CHINA300,H1</text>
<text x="423.5" y="785" font-size="12" fill="#000" textLength="82.5" lengthAdjust="spacingAndGlyphs">USDCNH,Daily</text>
<svg x="1575" y="770" width="11" height="20"><text x="0.5" y="15" font-size="12" fill="#5e5e5e">US</text></svg>
<path d="M1596 775v8l-4-4z" fill="#a0a0a0"/><path d="M1611 775v8l4-4z" fill="#000"/>
</svg></body></html>
